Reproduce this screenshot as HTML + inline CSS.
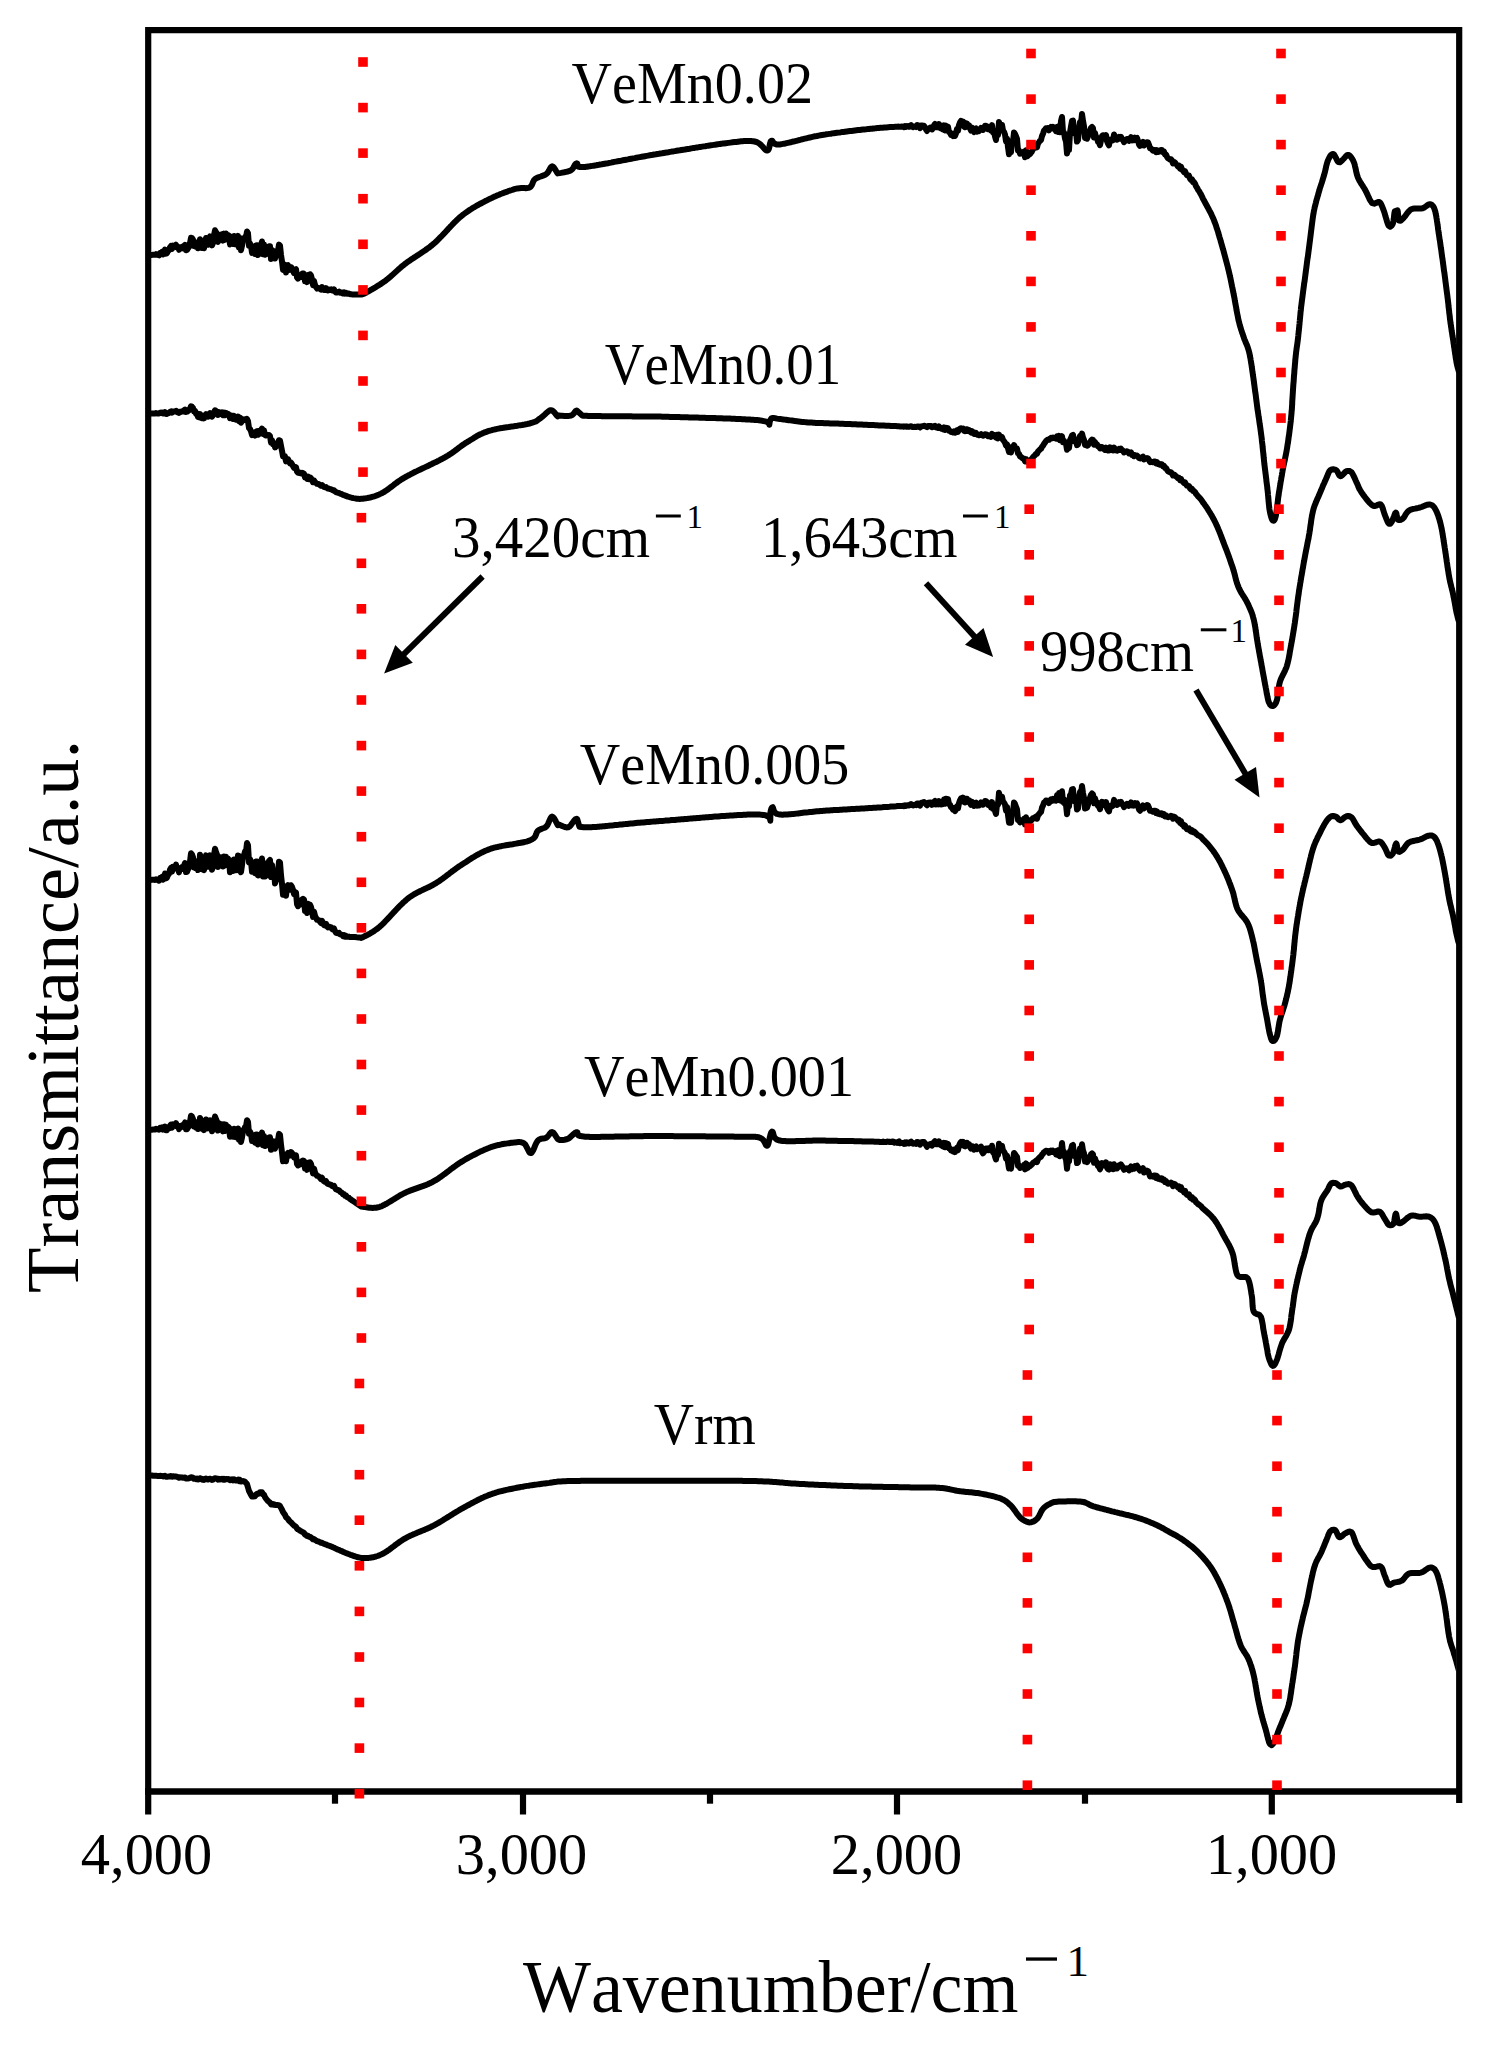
<!DOCTYPE html>
<html><head><meta charset="utf-8"><title>FTIR spectra</title>
<style>html,body{margin:0;padding:0;background:#fff}body{width:1488px;height:2045px;overflow:hidden;font-family:"Liberation Serif",serif}</style>
</head><body>
<svg width="1488" height="2045" viewBox="0 0 1488 2045" style="display:block">
<rect width="1488" height="2045" fill="#fff"/>
<defs><clipPath id="plot"><rect x="148" y="30" width="1308.2" height="1760"/></clipPath></defs>
<g font-family="'Liberation Serif', serif" fill="#000" style="font-kerning:none;font-variant-ligatures:none">
<polyline points="148.0,255.5 149.2,255.3 150.9,255.1 153.0,254.8 154.0,254.7 155.0,254.8 156.0,254.1 157.0,254.6 158.0,254.9 159.0,255.3 160.0,253.0 161.0,253.3 162.0,252.0 163.0,254.4 164.0,253.4 165.0,249.6 166.0,253.7 167.0,253.1 168.0,250.9 169.0,250.2 170.0,247.3 171.0,246.0 172.0,248.8 173.0,245.7 174.0,246.2 175.0,246.3 176.0,244.7 177.0,247.4 178.0,247.1 179.0,249.8 180.0,247.4 181.0,248.2 182.0,247.0 183.0,248.2 184.0,246.4 185.0,244.8 186.0,250.3 187.0,250.0 188.0,248.3 189.0,246.8 190.0,243.0 191.0,237.7 192.0,238.1 193.0,239.7 194.0,245.9 195.0,242.5 196.0,246.8 197.0,242.6 198.0,248.2 199.0,247.3 200.0,239.2 201.0,241.1 202.0,248.0 203.0,243.3 204.0,248.2 205.0,241.8 206.0,238.0 207.0,243.4 208.0,244.6 209.0,238.8 210.0,236.4 211.0,238.8 212.0,245.4 213.0,242.8 214.0,235.3 215.0,230.3 216.0,232.2 217.0,233.7 218.0,241.9 219.0,234.6 220.0,238.8 221.0,237.4 222.0,234.3 223.0,240.6 224.0,233.6 225.0,239.7 226.0,233.5 227.0,237.3 228.0,234.9 229.0,235.8 230.0,244.4 231.0,242.6 232.0,236.8 233.0,244.0 234.0,236.0 235.0,238.5 236.0,244.5 237.0,242.2 238.0,235.9 239.0,247.4 240.0,238.1 241.0,250.2 242.0,245.6 243.0,240.1 244.0,239.8 245.0,237.0 246.0,237.5 247.0,231.5 248.0,233.3 249.0,245.7 250.0,243.5 251.0,245.5 252.0,252.9 253.0,247.6 254.0,249.5 255.0,254.0 256.0,245.5 257.0,245.3 258.0,255.1 259.0,253.7 260.0,246.0 261.0,244.9 262.0,241.5 263.0,254.2 264.0,244.5 265.0,254.7 266.0,254.3 267.0,251.3 268.0,249.6 269.0,246.3 270.0,246.2 271.0,258.9 272.0,250.1 273.0,256.6 274.0,251.1 275.0,258.6 276.0,255.7 277.0,252.0 278.0,250.7 279.0,244.6 280.0,245.6 281.0,254.9 282.0,261.5 283.0,270.0 284.0,266.8 285.0,264.7 286.0,272.5 287.0,266.1 288.0,265.2 289.0,267.9 290.0,269.9 291.0,267.0 292.0,268.5 293.0,270.7 294.0,273.0 295.0,269.8 296.0,269.2 297.0,277.3 298.0,278.6 299.0,276.4 300.0,277.3 301.0,276.9 302.0,273.8 303.0,273.4 304.0,273.8 305.0,281.3 306.0,279.9 307.0,282.1 308.0,275.1 309.0,279.8 310.0,274.2 311.0,275.4 312.0,279.3 313.0,285.1 314.0,280.9 315.0,285.0 316.0,286.9 317.0,288.5 318.0,287.9 319.0,288.1 320.0,288.8 321.0,289.6 322.0,287.0 323.0,288.8 324.0,290.0 325.0,290.0 326.0,288.2 327.0,290.0 328.0,290.5 329.0,289.6 330.0,290.0 331.0,289.4 332.0,290.4 333.0,290.7 334.0,289.4 335.0,291.3 336.0,292.5 337.0,292.4 338.0,292.3 339.0,291.7 340.0,292.7 341.0,292.6 342.0,292.5 343.0,293.4 344.0,292.4 345.0,293.6 346.0,292.8 347.0,293.7 348.0,293.7 349.0,293.6 350.0,294.2 351.0,294.2 352.0,294.4 352.9,294.4 355.1,294.6 356.8,294.6 358.4,294.6 360.0,294.4 361.2,294.4 362.1,294.4 363.4,294.0 365.8,292.8 366.7,292.3 367.7,291.7 368.9,291.1 370.1,290.4 371.4,289.7 372.7,288.9 374.1,288.1 375.6,287.2 377.0,286.3 378.5,285.4 380.0,284.5 381.4,283.5 382.9,282.5 384.3,281.6 385.6,280.6 386.7,279.7 387.9,278.8 389.0,277.9 390.1,277.0 391.1,276.1 392.2,275.1 393.3,274.1 394.4,273.1 395.5,272.1 396.6,271.1 397.7,270.1 398.9,269.0 400.1,268.0 401.3,266.9 402.6,265.8 403.9,264.8 405.3,263.7 406.4,262.9 407.5,262.0 408.7,261.2 409.9,260.4 411.1,259.6 412.4,258.7 413.6,257.9 414.9,257.1 416.2,256.2 417.5,255.4 418.9,254.5 420.2,253.6 421.5,252.7 422.9,251.8 424.2,250.9 425.6,250.0 426.9,249.0 428.3,248.1 429.6,247.1 430.9,246.0 432.2,245.0 433.5,243.9 434.6,243.0 435.7,242.0 436.8,241.0 437.8,239.9 438.9,238.8 440.0,237.7 441.1,236.6 442.2,235.5 443.3,234.3 444.4,233.2 445.5,232.0 446.6,230.8 447.7,229.6 448.7,228.4 449.8,227.3 450.9,226.1 452.0,225.0 453.1,223.8 454.2,222.7 455.3,221.6 456.4,220.5 457.5,219.5 458.5,218.5 459.6,217.5 460.7,216.6 461.8,215.7 463.1,214.6 464.5,213.6 465.9,212.6 467.2,211.7 468.6,210.7 469.9,209.8 471.3,209.0 472.7,208.1 474.0,207.3 475.4,206.5 476.8,205.7 478.1,205.0 479.5,204.2 480.8,203.5 482.1,202.8 483.5,202.1 484.8,201.4 486.1,200.7 487.4,200.1 488.7,199.4 490.0,198.8 491.5,198.1 493.0,197.3 494.5,196.6 496.0,196.0 497.6,195.3 499.1,194.7 500.6,194.0 502.1,193.5 503.6,192.9 505.0,192.3 506.5,191.8 507.9,191.3 509.2,190.8 510.6,190.4 511.9,190.0 513.1,189.6 514.3,189.2 515.4,188.9 517.5,188.4 519.5,188.2 521.3,188.1 522.9,188.1 524.4,188.1 525.8,188.2 527.2,188.1 528.4,187.9 529.5,187.5 530.9,186.5 531.8,185.1 532.5,183.5 533.1,181.8 533.9,180.3 535.1,179.0 536.3,178.2 537.7,177.6 539.2,177.0 540.7,176.5 542.3,175.9 543.8,175.4 545.2,174.7 546.4,174.0 547.7,172.7 548.7,171.1 549.6,169.4 550.4,167.9 551.2,166.8 552.1,166.3 553.1,166.7 554.1,167.8 555.1,169.4 556.1,171.0 557.0,172.5 557.7,173.4 559.8,173.1 561.0,172.9 562.5,172.6 564.3,172.3 566.1,171.9 567.9,171.5 569.6,170.9 571.0,170.3 572.2,169.3 573.2,167.9 574.0,166.4 574.8,165.0 575.7,163.9 576.7,163.3 577.3,163.5 577.9,166.5 580.3,167.1 585.2,166.9 586.1,166.8 587.0,166.7 588.0,166.5 589.0,166.4 590.1,166.2 591.2,166.1 592.4,165.9 593.6,165.7 594.9,165.5 596.2,165.3 597.6,165.0 598.9,164.8 600.3,164.5 601.8,164.3 603.3,164.0 604.8,163.7 606.3,163.4 607.9,163.2 609.5,162.9 611.1,162.6 612.7,162.2 614.3,161.9 616.0,161.6 617.7,161.3 619.4,161.0 621.1,160.7 622.8,160.3 624.5,160.0 626.2,159.7 627.9,159.4 629.7,159.0 631.4,158.7 633.1,158.4 634.8,158.1 636.5,157.7 638.2,157.4 639.9,157.1 641.6,156.8 643.3,156.5 644.9,156.2 646.6,155.9 648.2,155.6 649.8,155.3 651.4,155.1 652.9,154.8 654.4,154.5 655.9,154.3 657.4,154.0 658.9,153.8 660.5,153.5 662.1,153.3 663.6,153.0 665.2,152.7 666.8,152.4 668.4,152.2 670.1,151.9 671.7,151.6 673.3,151.4 675.0,151.1 676.6,150.8 678.2,150.5 679.9,150.3 681.5,150.0 683.2,149.7 684.8,149.5 686.4,149.2 688.1,148.9 689.7,148.7 691.3,148.4 692.9,148.1 694.5,147.9 696.1,147.6 697.7,147.4 699.2,147.1 700.8,146.9 702.3,146.6 703.8,146.4 705.3,146.2 706.8,145.9 708.2,145.7 709.6,145.5 711.0,145.3 712.4,145.1 713.8,144.9 715.1,144.7 716.4,144.5 717.7,144.3 718.9,144.1 720.1,144.0 721.3,143.8 722.4,143.6 723.5,143.5 726.0,143.2 728.3,142.9 730.5,142.6 732.5,142.3 734.5,142.1 736.3,141.9 738.0,141.7 739.6,141.5 741.2,141.3 742.6,141.2 744.0,141.1 745.3,141.1 746.6,141.0 747.8,141.0 749.0,141.0 750.1,141.0 751.2,141.1 752.3,141.2 753.4,141.3 754.5,141.5 756.5,142.0 758.3,142.9 759.9,144.0 761.3,145.3 762.5,146.5 763.6,147.8 764.6,148.9 765.5,149.8 766.4,150.4 767.2,150.6 768.2,150.1 768.9,148.8 769.4,147.0 769.7,145.0 770.1,143.1 770.6,141.6 771.4,140.7 772.2,140.7 772.7,141.4 773.3,142.5 774.4,143.6 776.5,144.4 779.9,144.4 780.8,144.3 781.8,144.1 782.9,143.9 784.0,143.7 785.2,143.5 786.5,143.2 787.8,142.9 789.1,142.6 790.5,142.3 791.9,141.9 793.4,141.5 794.9,141.2 796.5,140.8 798.1,140.4 799.7,140.0 801.3,139.5 803.0,139.1 804.7,138.7 806.4,138.3 808.1,137.9 809.8,137.5 811.6,137.1 813.3,136.7 815.1,136.3 816.9,136.0 818.7,135.6 820.4,135.3 822.2,135.0 823.6,134.8 824.9,134.6 826.4,134.3 827.8,134.1 829.3,133.9 830.8,133.7 832.3,133.4 833.8,133.2 835.4,133.0 837.0,132.8 838.5,132.6 840.2,132.4 841.8,132.1 843.4,131.9 845.0,131.7 846.7,131.5 848.3,131.3 849.9,131.1 851.6,130.9 853.2,130.7 854.8,130.5 856.5,130.3 858.1,130.1 859.7,130.0 861.3,129.8 862.9,129.6 864.4,129.4 866.0,129.3 867.5,129.1 869.0,129.0 870.5,128.8 871.9,128.7 873.3,128.5 874.7,128.4 876.1,128.2 877.4,128.1 878.7,128.0 880.6,127.8 882.6,127.7 884.5,127.5 886.3,127.4 888.2,127.2 890.0,127.1 891.8,127.0 893.5,126.9 895.2,126.8 896.9,126.7 898.6,126.6 900.0,126.8 901.0,126.6 902.0,126.7 903.0,126.6 904.0,127.2 905.0,126.2 906.0,126.9 907.0,126.1 908.0,126.5 909.0,126.8 910.0,125.8 911.0,125.1 912.0,126.3 913.0,127.1 914.0,126.7 915.0,126.2 916.0,127.0 917.0,125.1 918.0,125.2 919.0,125.8 920.0,128.2 921.0,125.6 922.0,125.5 923.0,125.7 924.0,125.8 925.0,127.5 926.0,129.4 927.0,131.0 928.0,128.5 929.0,128.5 930.0,127.8 931.0,127.4 932.0,129.5 933.0,127.6 934.0,125.4 935.0,123.9 936.0,127.3 937.0,126.7 938.0,127.3 939.0,124.0 940.0,126.0 941.0,128.4 942.0,126.9 943.0,129.4 944.0,125.3 945.0,130.5 946.0,125.6 947.0,128.3 948.0,126.7 949.0,132.1 950.0,132.3 951.0,134.9 952.0,134.7 953.0,136.0 954.0,133.6 955.0,135.9 956.0,133.3 957.0,129.0 958.0,130.6 959.0,125.1 960.0,122.5 961.0,121.0 962.0,123.1 963.0,121.6 964.0,126.5 965.0,127.2 966.0,123.3 967.0,123.4 968.0,126.7 969.0,125.3 970.0,128.3 971.0,130.6 972.0,127.6 973.0,129.0 974.0,132.1 975.0,129.3 976.0,128.5 977.0,131.7 978.0,130.9 979.0,131.2 980.0,129.7 981.0,127.8 982.0,129.4 983.0,130.0 984.0,128.6 985.0,125.8 986.0,125.8 987.0,126.4 988.0,129.1 989.0,127.5 990.0,127.6 991.0,130.7 992.0,125.1 993.0,132.3 994.0,131.8 995.0,136.5 996.0,140.0 997.0,131.4 998.0,135.1 999.0,122.0 1000.0,126.1 1001.0,126.6 1002.0,124.8 1003.0,130.5 1004.0,131.9 1005.0,134.5 1006.0,141.4 1007.0,138.6 1008.0,147.1 1009.0,154.3 1010.0,147.2 1011.0,152.3 1012.0,140.9 1013.0,141.7 1014.0,132.4 1015.0,133.9 1016.0,136.2 1017.0,138.9 1018.0,150.5 1019.0,150.4 1020.0,153.7 1021.0,152.8 1022.0,153.5 1023.0,153.5 1024.0,151.6 1025.0,157.2 1026.0,150.2 1027.0,156.4 1028.0,155.8 1029.0,153.0 1030.0,154.1 1031.0,152.7 1032.0,151.4 1033.0,149.1 1034.0,148.2 1035.0,147.2 1036.0,145.8 1037.0,147.3 1038.0,143.3 1039.0,142.2 1040.0,140.7 1041.0,140.1 1042.0,135.9 1043.0,133.7 1044.0,130.7 1045.0,129.7 1046.0,128.2 1047.0,128.2 1048.0,128.1 1049.0,130.3 1050.0,128.6 1051.0,126.9 1052.0,128.2 1053.0,126.9 1054.0,128.8 1055.0,128.4 1056.0,131.1 1057.0,127.1 1058.0,132.0 1059.0,126.0 1060.0,132.3 1061.0,120.9 1062.0,117.0 1063.0,132.0 1064.0,132.5 1065.0,138.6 1066.0,141.5 1067.0,153.5 1068.0,147.3 1069.0,150.0 1070.0,132.5 1071.0,126.6 1072.0,120.9 1073.0,120.6 1074.0,133.0 1075.0,133.5 1076.0,131.1 1077.0,141.6 1078.0,140.1 1079.0,128.6 1080.0,121.9 1081.0,123.2 1082.0,114.0 1083.0,120.9 1084.0,126.3 1085.0,138.1 1086.0,138.3 1087.0,138.7 1088.0,136.4 1089.0,131.7 1090.0,130.6 1091.0,127.9 1092.0,127.0 1093.0,128.2 1094.0,137.5 1095.0,133.0 1096.0,136.9 1097.0,137.7 1098.0,141.9 1099.0,142.4 1100.0,145.2 1101.0,140.5 1102.0,136.2 1103.0,135.2 1104.0,135.5 1105.0,137.9 1106.0,135.1 1107.0,141.2 1108.0,143.7 1109.0,145.3 1110.0,139.8 1111.0,140.4 1112.0,140.8 1113.0,140.2 1114.0,134.5 1115.0,136.9 1116.0,139.2 1117.0,139.7 1118.0,138.6 1119.0,137.0 1120.0,138.5 1121.0,136.8 1122.0,138.7 1123.0,139.6 1124.0,142.2 1125.0,140.9 1126.0,140.0 1127.0,138.9 1128.0,139.1 1129.0,140.8 1130.0,139.1 1131.0,137.2 1132.0,140.3 1133.0,138.5 1134.0,140.2 1135.0,137.7 1136.0,138.2 1137.0,137.9 1138.0,140.7 1139.0,144.5 1140.0,145.9 1141.0,144.6 1142.0,143.6 1143.0,141.9 1144.0,145.5 1145.0,143.4 1146.0,143.4 1147.0,142.2 1148.0,142.4 1149.0,144.8 1150.0,148.3 1151.0,148.5 1152.0,149.6 1153.0,150.6 1154.0,149.9 1155.0,150.2 1156.0,152.2 1157.0,150.1 1158.0,152.0 1159.0,151.5 1160.0,151.4 1161.0,149.9 1162.0,149.9 1163.0,152.1 1164.0,151.7 1165.0,154.6 1166.0,154.5 1167.0,156.8 1168.0,158.3 1169.0,158.8 1170.0,159.5 1171.0,159.2 1172.0,160.6 1173.0,163.4 1174.0,161.8 1175.0,162.6 1176.0,164.0 1177.0,165.0 1178.0,166.5 1179.0,165.7 1180.0,168.6 1181.0,166.7 1182.0,169.9 1183.0,170.2 1184.0,172.2 1185.0,171.1 1186.0,173.6 1187.0,175.3 1188.0,175.7 1189.0,175.6 1190.0,178.6 1191.0,179.9 1192.0,179.4 1193.0,182.1 1194.0,182.1 1195.0,183.6 1196.0,186.3 1197.0,187.7 1198.0,189.7 1199.0,191.1 1200.0,192.8 1201.0,194.4 1202.0,196.6 1203.0,198.8 1204.0,200.5 1205.0,202.4 1205.6,203.5 1206.4,204.9 1207.1,206.3 1207.9,207.7 1208.6,209.0 1209.3,210.4 1210.1,211.8 1210.8,213.2 1211.5,214.6 1212.1,216.0 1212.8,217.5 1213.5,219.0 1214.1,220.6 1214.6,222.0 1215.2,223.4 1215.7,224.8 1216.2,226.2 1216.6,227.7 1217.1,229.1 1217.6,230.6 1218.1,232.1 1218.5,233.7 1219.0,235.2 1219.4,236.8 1219.9,238.4 1220.4,239.9 1220.8,241.6 1221.3,243.2 1221.7,244.6 1222.1,246.0 1222.5,247.4 1222.9,248.9 1223.4,250.4 1223.8,251.9 1224.2,253.4 1224.6,254.9 1225.0,256.4 1225.4,258.0 1225.8,259.5 1226.2,261.0 1226.6,262.5 1227.0,264.0 1227.4,265.5 1227.8,267.0 1228.1,268.5 1228.5,269.9 1228.9,271.5 1229.2,273.1 1229.6,274.6 1229.9,276.1 1230.3,277.7 1230.6,279.2 1230.9,280.7 1231.2,282.2 1231.5,283.7 1231.8,285.2 1232.1,286.7 1232.5,288.3 1232.8,289.8 1233.1,291.3 1233.4,292.9 1233.7,294.5 1234.0,295.9 1234.3,297.4 1234.6,298.9 1234.8,300.5 1235.1,302.0 1235.4,303.6 1235.7,305.2 1236.0,306.8 1236.3,308.4 1236.5,309.9 1236.8,311.5 1237.1,313.0 1237.4,314.5 1237.7,315.9 1238.0,317.3 1238.2,318.7 1238.5,320.0 1238.8,321.2 1239.3,323.1 1239.7,324.9 1240.2,326.5 1240.7,328.0 1241.1,329.5 1241.6,330.9 1242.0,332.3 1242.5,333.6 1243.0,335.0 1243.4,336.3 1243.9,337.7 1244.4,339.2 1245.0,340.5 1245.5,341.8 1246.0,343.1 1246.6,344.3 1247.1,345.6 1247.6,347.0 1248.1,348.5 1248.6,350.2 1249.1,352.0 1249.4,353.2 1249.7,354.5 1249.9,355.9 1250.2,357.3 1250.5,358.7 1250.7,360.2 1251.0,361.8 1251.2,363.3 1251.5,364.9 1251.7,366.5 1252.0,368.2 1252.2,369.9 1252.4,371.5 1252.7,373.2 1252.9,375.0 1253.2,376.7 1253.4,378.1 1253.6,379.5 1253.8,381.0 1254.0,382.5 1254.2,384.0 1254.4,385.6 1254.6,387.1 1254.8,388.7 1255.0,390.3 1255.2,391.9 1255.5,393.4 1255.7,395.0 1255.9,396.6 1256.1,398.2 1256.3,399.8 1256.5,401.4 1256.7,402.9 1256.9,404.5 1257.1,406.0 1257.3,407.5 1257.5,409.1 1257.7,410.6 1258.0,412.1 1258.2,413.7 1258.4,415.2 1258.6,416.7 1258.9,418.2 1259.1,419.7 1259.3,421.2 1259.5,422.7 1259.7,424.2 1260.0,425.7 1260.2,427.2 1260.4,428.7 1260.6,430.2 1260.8,431.7 1261.0,433.2 1261.2,434.7 1261.4,436.2 1261.6,437.7 1261.8,439.2 1261.9,440.8 1262.1,442.3 1262.3,443.9 1262.5,445.4 1262.6,447.0 1262.8,448.5 1262.9,450.1 1263.1,451.6 1263.3,453.2 1263.4,454.7 1263.6,456.2 1263.7,457.7 1263.9,459.2 1264.0,460.7 1264.2,462.1 1264.3,463.6 1264.5,465.0 1264.7,466.7 1264.9,468.3 1265.1,469.9 1265.3,471.5 1265.5,473.1 1265.7,474.7 1265.9,476.3 1266.1,477.8 1266.3,479.3 1266.4,480.9 1266.6,482.4 1266.8,483.8 1267.0,485.3 1267.2,486.7 1267.3,488.2 1267.5,489.6 1267.7,491.3 1267.9,493.1 1268.0,494.8 1268.2,496.5 1268.3,498.2 1268.5,499.9 1268.6,501.6 1268.8,503.1 1268.9,504.7 1269.1,506.1 1269.2,507.5 1269.4,508.9 1269.6,510.1 1270.0,512.2 1270.4,514.2 1270.9,516.0 1271.3,517.5 1271.8,518.8 1272.3,519.8 1272.7,520.4 1273.7,520.8 1274.7,519.6 1275.7,516.3 1275.9,515.3 1276.1,514.2 1276.3,513.0 1276.5,511.7 1276.7,510.2 1276.9,508.7 1277.1,507.1 1277.3,505.5 1277.5,503.8 1277.7,502.1 1277.9,500.4 1278.1,498.6 1278.3,497.0 1278.6,495.3 1278.8,493.7 1279.0,492.2 1279.3,490.7 1279.5,489.2 1279.8,487.6 1280.0,486.0 1280.3,484.4 1280.5,482.9 1280.8,481.3 1281.1,479.7 1281.3,478.1 1281.6,476.6 1281.9,475.0 1282.1,473.5 1282.4,472.0 1282.6,470.5 1282.9,469.1 1283.2,467.5 1283.5,466.0 1283.8,464.6 1284.1,463.2 1284.4,461.9 1284.7,460.5 1285.0,459.2 1285.2,457.8 1285.5,456.4 1285.8,455.0 1286.1,453.5 1286.4,451.9 1286.7,450.3 1287.0,448.5 1287.2,447.2 1287.4,445.8 1287.6,444.4 1287.9,443.0 1288.1,441.5 1288.3,440.0 1288.5,438.5 1288.7,436.9 1289.0,435.3 1289.2,433.7 1289.4,432.1 1289.6,430.5 1289.8,428.9 1290.0,427.3 1290.2,425.6 1290.4,424.0 1290.6,422.4 1290.8,420.8 1290.9,419.3 1291.1,417.7 1291.2,416.2 1291.4,414.6 1291.5,413.1 1291.6,411.5 1291.8,410.0 1291.9,408.5 1292.0,406.9 1292.1,405.4 1292.2,403.8 1292.2,402.3 1292.3,400.8 1292.4,399.2 1292.5,397.7 1292.6,396.1 1292.7,394.6 1292.8,393.1 1292.9,391.5 1293.0,390.0 1293.1,388.4 1293.2,386.9 1293.3,385.3 1293.4,383.8 1293.6,382.2 1293.7,380.6 1293.8,379.0 1293.9,377.3 1294.0,375.7 1294.2,374.1 1294.3,372.5 1294.4,370.9 1294.5,369.3 1294.7,367.7 1294.8,366.1 1294.9,364.6 1295.1,363.1 1295.2,361.6 1295.3,360.2 1295.4,358.8 1295.6,357.4 1295.7,356.1 1295.9,354.2 1296.1,352.5 1296.3,350.9 1296.5,349.4 1296.7,347.9 1296.9,346.5 1297.1,345.2 1297.3,343.8 1297.5,342.3 1297.7,340.8 1297.9,339.2 1298.1,337.5 1298.3,335.6 1298.4,334.3 1298.6,332.9 1298.7,331.5 1298.9,330.1 1299.0,328.6 1299.2,327.1 1299.3,325.6 1299.5,324.0 1299.6,322.4 1299.8,320.8 1299.9,319.2 1300.1,317.6 1300.2,316.0 1300.4,314.4 1300.5,312.7 1300.7,311.1 1300.9,309.5 1301.0,307.9 1301.2,306.4 1301.4,304.8 1301.6,303.3 1301.8,301.7 1302.0,300.2 1302.2,298.6 1302.4,297.1 1302.6,295.6 1302.8,294.0 1303.0,292.5 1303.2,290.9 1303.4,289.4 1303.6,287.9 1303.8,286.3 1304.0,284.8 1304.2,283.2 1304.5,281.7 1304.7,280.2 1304.9,278.6 1305.1,277.1 1305.3,275.5 1305.5,274.0 1305.7,272.5 1305.9,270.9 1306.1,269.4 1306.3,267.8 1306.5,266.3 1306.7,264.8 1306.9,263.2 1307.1,261.7 1307.3,260.1 1307.5,258.6 1307.8,257.1 1308.0,255.5 1308.2,254.0 1308.4,252.4 1308.6,250.9 1308.8,249.4 1309.0,247.8 1309.2,246.3 1309.4,244.7 1309.6,243.2 1309.8,241.6 1310.0,240.1 1310.2,238.5 1310.4,236.9 1310.6,235.3 1310.8,233.6 1311.0,232.0 1311.2,230.4 1311.4,228.8 1311.6,227.2 1311.8,225.6 1312.0,224.0 1312.2,222.4 1312.4,220.9 1312.6,219.4 1312.8,217.9 1313.0,216.5 1313.2,215.1 1313.5,213.7 1313.7,212.4 1314.0,210.6 1314.4,208.9 1314.7,207.3 1315.1,205.7 1315.5,204.2 1315.9,202.7 1316.2,201.3 1316.6,199.9 1317.0,198.5 1317.4,197.2 1317.8,195.8 1318.2,194.5 1318.5,193.2 1318.9,191.9 1319.4,190.2 1319.8,188.6 1320.3,187.1 1320.8,185.6 1321.3,184.1 1321.8,182.6 1322.2,181.2 1322.7,179.7 1323.1,178.3 1323.6,176.8 1324.0,175.4 1324.4,173.8 1324.9,172.1 1325.3,170.4 1325.7,168.7 1326.0,167.1 1326.4,165.4 1326.8,163.9 1327.2,162.5 1327.7,161.2 1328.1,160.0 1329.1,158.0 1330.1,156.2 1331.1,154.9 1332.2,154.1 1333.2,153.9 1334.1,154.6 1335.0,156.0 1335.9,157.8 1336.7,159.6 1337.6,161.2 1338.4,162.1 1339.8,162.3 1341.1,161.3 1342.5,160.0 1343.5,159.0 1344.7,157.6 1345.9,156.2 1347.0,155.2 1348.2,154.9 1349.2,155.3 1350.1,156.1 1351.1,157.2 1352.0,158.6 1353.0,160.3 1353.8,162.1 1354.3,163.3 1354.7,164.7 1355.0,166.2 1355.4,167.8 1355.8,169.5 1356.1,171.2 1356.5,172.8 1356.9,174.5 1357.4,176.0 1357.9,177.5 1358.6,179.0 1359.3,180.4 1360.1,181.8 1360.9,183.1 1361.7,184.4 1362.6,185.7 1363.4,187.1 1364.3,188.4 1365.1,189.8 1365.8,191.2 1366.5,192.6 1367.3,194.2 1368.0,195.8 1368.7,197.3 1369.4,198.8 1370.1,200.2 1370.9,201.4 1371.6,202.4 1372.3,203.2 1374.2,203.7 1376.0,203.0 1377.8,202.1 1379.4,202.1 1380.3,202.8 1381.0,203.9 1381.6,205.2 1382.2,206.7 1382.9,208.4 1383.6,210.3 1384.1,211.6 1384.6,213.2 1385.1,214.9 1385.6,216.8 1386.2,218.6 1386.7,220.4 1387.2,222.1 1387.7,223.6 1388.2,224.8 1388.7,225.7 1390.2,226.7 1391.6,225.8 1392.8,223.7 1393.1,222.6 1393.4,221.1 1393.7,219.3 1393.9,217.5 1394.1,215.6 1394.3,213.9 1394.5,212.5 1394.8,211.4 1397.5,210.3 1397.8,211.5 1398.0,213.3 1398.2,215.5 1398.4,217.7 1398.6,219.5 1399.0,220.6 1400.6,220.8 1403.0,218.6 1403.8,217.7 1404.7,216.6 1405.7,215.3 1406.7,213.9 1407.8,212.5 1408.9,211.2 1410.1,210.1 1411.3,209.3 1412.8,208.7 1414.4,208.5 1416.1,208.5 1417.9,208.5 1419.6,208.6 1421.2,208.5 1422.6,208.3 1424.3,207.5 1425.9,206.4 1427.3,205.3 1428.6,204.4 1429.8,204.2 1431.0,204.5 1432.0,205.0 1433.0,206.0 1434.0,207.7 1434.9,210.3 1435.2,211.3 1435.5,212.5 1435.7,213.7 1436.0,215.1 1436.3,216.5 1436.5,218.0 1436.8,219.6 1437.0,221.2 1437.3,222.9 1437.5,224.6 1437.8,226.4 1438.0,228.1 1438.2,229.9 1438.5,231.6 1438.7,233.3 1439.0,235.0 1439.2,236.4 1439.4,237.8 1439.6,239.3 1439.9,240.7 1440.1,242.2 1440.3,243.7 1440.5,245.2 1440.7,246.7 1440.9,248.2 1441.2,249.7 1441.4,251.3 1441.6,252.8 1441.8,254.3 1442.0,255.9 1442.2,257.5 1442.5,259.0 1442.7,260.6 1442.9,262.1 1443.1,263.7 1443.3,265.2 1443.5,266.7 1443.7,268.2 1443.9,269.8 1444.1,271.3 1444.4,272.9 1444.6,274.5 1444.8,276.1 1445.0,277.6 1445.2,279.2 1445.4,280.8 1445.6,282.4 1445.8,283.9 1446.0,285.5 1446.2,287.0 1446.4,288.6 1446.6,290.1 1446.8,291.6 1447.0,293.1 1447.2,294.5 1447.4,296.2 1447.6,297.9 1447.8,299.5 1448.0,301.2 1448.2,302.8 1448.4,304.5 1448.5,306.1 1448.7,307.7 1448.9,309.3 1449.1,310.8 1449.2,312.4 1449.4,313.9 1449.6,315.4 1449.8,316.9 1449.9,318.4 1450.1,319.8 1450.3,321.2 1450.5,323.0 1450.8,324.7 1451.0,326.4 1451.3,328.0 1451.5,329.6 1451.7,331.1 1452.0,332.6 1452.2,334.2 1452.4,335.7 1452.7,337.2 1452.9,338.7 1453.2,340.2 1453.4,341.8 1453.6,343.4 1453.9,345.1 1454.1,346.8 1454.4,348.5 1454.6,350.2 1454.9,351.9 1455.1,353.6 1455.4,355.2 1455.6,356.8 1455.8,358.3 1456.1,359.7 1456.3,361.1 1456.5,362.3 1457.0,364.7 1457.5,366.7 1457.9,368.4 1458.4,369.9 1458.7,371.1 1459.0,372.0" fill="none" stroke="#000" stroke-width="6" stroke-linejoin="round" stroke-linecap="butt"/>
<polyline points="148.0,413.6 148.1,413.7 151.3,413.6 152.3,413.6 153.0,413.5 154.0,413.5 155.0,413.5 156.0,413.1 157.0,413.4 158.0,413.5 159.0,413.6 160.0,412.7 161.0,412.9 162.0,412.5 163.0,413.6 164.0,413.4 165.0,412.1 166.0,413.9 167.0,413.9 168.0,413.2 169.0,413.0 170.0,411.9 171.0,411.4 172.0,412.7 173.0,411.4 174.0,411.6 175.0,411.6 176.0,410.9 177.0,412.1 178.0,411.8 179.0,412.9 180.0,411.7 181.0,411.9 182.0,411.2 183.0,411.5 184.0,410.5 185.0,409.6 186.0,412.0 187.0,411.7 188.0,411.0 189.0,410.3 190.0,408.6 191.0,406.3 192.0,406.8 193.0,408.0 194.0,411.3 195.0,410.8 196.0,413.9 197.0,413.4 198.0,416.9 199.0,417.3 200.0,414.1 201.0,415.2 202.0,418.2 203.0,416.3 204.0,418.4 205.0,415.7 206.0,414.1 207.0,416.3 208.0,416.7 209.0,414.2 210.0,413.2 211.0,414.0 212.0,416.6 213.0,415.4 214.0,412.4 215.0,410.3 216.0,411.0 217.0,411.7 218.0,415.0 219.0,412.1 220.0,413.9 221.0,413.5 222.0,412.5 223.0,415.2 224.0,412.6 225.0,415.2 226.0,412.9 227.0,414.6 228.0,413.9 229.0,414.5 230.0,418.2 231.0,417.7 232.0,415.6 233.0,418.8 234.0,415.8 235.0,417.1 236.0,419.6 237.0,418.9 238.0,416.5 239.0,421.2 240.0,417.6 241.0,422.7 242.0,421.1 243.0,419.3 244.0,419.7 245.0,419.3 246.0,420.2 247.0,419.0 248.0,421.3 249.0,428.1 250.0,429.0 251.0,431.2 252.0,435.1 253.0,433.3 254.0,434.1 255.0,435.5 256.0,431.7 257.0,431.2 258.0,434.8 259.0,433.9 260.0,430.6 261.0,430.0 262.0,428.6 263.0,434.0 264.0,430.3 265.0,435.0 266.0,435.5 267.0,435.1 268.0,435.4 269.0,435.0 270.0,436.1 271.0,442.6 272.0,440.2 273.0,444.2 274.0,443.1 275.0,447.4 276.0,446.5 277.0,444.5 278.0,443.5 279.0,440.2 280.0,440.5 281.0,445.9 282.0,450.8 283.0,456.4 284.0,456.3 285.0,456.3 286.0,461.4 287.0,458.9 288.0,459.1 289.0,461.5 290.0,463.4 291.0,462.6 292.0,464.2 293.0,466.0 294.0,467.8 295.0,466.8 296.0,467.2 297.0,471.6 298.0,472.7 299.0,472.3 300.0,473.2 301.0,473.5 302.0,472.7 303.0,473.1 304.0,473.8 305.0,477.4 306.0,477.4 307.0,478.8 308.0,476.6 309.0,479.1 310.0,477.3 311.0,478.2 312.0,479.9 313.0,482.2 314.0,480.4 315.0,482.1 316.0,483.0 317.0,483.8 318.0,483.9 319.0,484.3 320.0,485.0 321.0,485.7 322.0,485.0 323.0,486.1 324.0,486.9 325.0,487.3 326.0,487.0 327.0,488.0 328.0,488.6 329.0,488.6 330.0,489.1 331.0,489.2 332.0,489.9 333.0,490.4 334.0,490.3 335.0,491.4 336.0,492.1 337.0,492.5 338.0,492.8 339.0,492.9 340.0,493.6 341.0,493.9 342.0,494.3 343.0,494.9 344.0,494.9 345.0,495.6 345.3,495.6 346.6,496.1 347.9,496.6 349.2,497.0 350.5,497.4 351.7,497.7 353.5,498.1 355.2,498.4 356.7,498.7 358.2,498.8 359.7,498.9 361.1,498.8 362.6,498.7 364.1,498.5 365.8,498.3 367.2,498.1 368.6,497.8 370.1,497.5 371.5,497.1 373.0,496.7 374.5,496.3 376.0,495.7 377.6,495.1 379.2,494.4 380.9,493.6 382.7,492.7 383.8,492.1 384.9,491.4 385.9,490.7 387.0,490.0 388.1,489.2 389.2,488.4 390.3,487.5 391.4,486.7 392.6,485.8 393.8,484.9 395.0,483.9 396.3,483.0 397.6,482.0 399.0,481.0 400.5,480.1 402.0,479.1 403.6,478.1 405.3,477.1 406.4,476.5 407.6,475.9 408.8,475.2 410.0,474.6 411.3,473.9 412.7,473.2 414.0,472.5 415.4,471.8 416.9,471.1 418.3,470.4 419.8,469.7 421.3,469.0 422.8,468.3 424.3,467.6 425.8,466.9 427.3,466.2 428.8,465.5 430.3,464.7 431.8,464.0 433.2,463.3 434.7,462.6 436.1,462.0 437.4,461.3 438.8,460.6 440.1,459.9 441.3,459.3 442.5,458.6 443.7,458.0 444.8,457.4 446.5,456.4 448.1,455.5 449.5,454.5 451.0,453.6 452.3,452.7 453.6,451.8 454.8,450.9 456.0,450.0 457.2,449.1 458.3,448.3 459.4,447.4 460.5,446.6 461.6,445.8 462.7,445.0 463.8,444.2 465.0,443.4 466.2,442.7 467.4,441.9 468.8,441.1 470.1,440.3 471.4,439.5 472.7,438.7 473.9,437.9 475.1,437.2 476.4,436.4 477.6,435.7 478.9,435.0 480.3,434.3 481.7,433.7 483.2,433.0 484.7,432.4 486.4,431.8 488.1,431.2 490.0,430.6 491.2,430.3 492.6,429.9 494.0,429.6 495.4,429.3 497.0,428.9 498.5,428.6 500.2,428.3 501.8,428.1 503.5,427.8 505.2,427.5 507.0,427.2 508.7,427.0 510.5,426.7 512.2,426.4 513.9,426.2 515.6,425.9 517.3,425.7 518.9,425.4 520.4,425.2 522.0,425.0 523.4,424.7 524.8,424.5 526.1,424.2 527.3,424.0 528.5,423.7 529.5,423.5 532.3,422.7 534.3,422.0 535.9,421.4 537.0,420.7 537.9,420.1 538.7,419.4 539.6,418.7 540.8,417.9 542.1,416.9 543.4,415.8 544.7,414.6 546.0,413.3 547.3,412.2 548.5,411.2 549.6,410.5 550.7,410.2 552.1,410.5 553.5,411.5 554.8,412.9 555.9,414.3 556.9,415.6 557.7,416.4 558.3,415.6 559.4,415.6 560.8,415.7 562.5,415.8 564.3,415.9 566.2,415.9 568.0,415.9 569.7,415.8 571.0,415.6 572.6,414.8 573.8,413.5 574.8,412.1 575.7,411.0 576.7,410.6 582.3,415.6 583.1,415.7 584.0,415.7 584.9,415.8 585.9,415.8 586.9,415.8 588.0,415.9 589.0,415.9 590.2,415.9 591.3,416.0 592.5,416.0 593.8,416.0 595.1,416.1 596.4,416.1 597.7,416.1 599.1,416.1 600.5,416.1 601.9,416.2 603.4,416.2 604.9,416.2 606.4,416.2 607.9,416.2 609.4,416.2 611.0,416.2 612.6,416.3 614.2,416.3 615.9,416.3 617.5,416.3 619.2,416.3 620.9,416.3 622.5,416.3 624.2,416.3 626.0,416.3 627.7,416.3 629.4,416.3 631.1,416.3 632.9,416.4 634.6,416.4 636.4,416.4 638.1,416.4 639.9,416.4 641.6,416.4 643.4,416.4 645.1,416.4 646.9,416.5 648.6,416.5 650.3,416.5 652.0,416.5 653.8,416.5 655.5,416.6 657.2,416.6 658.8,416.6 660.5,416.6 662.2,416.7 663.8,416.7 665.4,416.8 667.0,416.8 668.4,416.8 669.9,416.9 671.4,416.9 672.9,417.0 674.5,417.0 676.0,417.0 677.6,417.1 679.2,417.1 680.9,417.2 682.5,417.2 684.1,417.2 685.8,417.3 687.5,417.3 689.2,417.4 690.9,417.4 692.6,417.5 694.3,417.5 696.0,417.6 697.7,417.6 699.5,417.7 701.2,417.7 702.9,417.8 704.7,417.8 706.4,417.9 708.2,417.9 709.9,418.0 711.6,418.0 713.3,418.1 715.0,418.1 716.8,418.2 718.5,418.2 720.1,418.3 721.8,418.3 723.5,418.4 725.1,418.5 726.8,418.5 728.4,418.6 730.0,418.6 731.6,418.7 733.1,418.8 734.7,418.8 736.2,418.9 737.7,419.0 739.2,419.0 740.6,419.1 742.1,419.2 743.5,419.2 744.8,419.3 746.2,419.4 747.5,419.4 748.7,419.5 750.0,419.6 751.2,419.7 752.3,419.7 753.5,419.8 754.5,419.9 755.6,420.0 756.6,420.1 757.6,420.1 758.5,420.2 759.4,420.3 760.2,420.4 766.4,421.6 769.0,423.1 769.3,424.7 769.8,421.4 770.5,419.6 771.4,418.5 772.5,417.9 773.5,417.9 774.9,418.1 776.9,418.6 779.9,419.0 781.0,419.1 782.1,419.3 783.3,419.4 784.6,419.6 785.9,419.8 787.3,420.0 788.8,420.2 790.3,420.4 791.9,420.6 793.5,420.8 795.2,421.1 796.9,421.3 798.7,421.5 800.5,421.7 802.4,421.9 804.2,422.1 806.2,422.2 808.1,422.4 809.4,422.5 810.6,422.6 811.9,422.6 813.2,422.7 814.5,422.8 815.8,422.9 817.2,422.9 818.5,423.0 819.9,423.0 821.3,423.1 822.7,423.1 824.1,423.2 825.5,423.2 827.0,423.3 828.5,423.3 830.0,423.4 831.5,423.4 833.1,423.5 834.7,423.5 836.3,423.6 838.0,423.6 839.7,423.7 841.4,423.8 843.1,423.8 844.9,423.9 846.7,423.9 848.6,424.0 850.5,424.1 851.8,424.2 853.1,424.2 854.5,424.3 855.9,424.3 857.3,424.4 858.8,424.5 860.4,424.5 861.9,424.6 863.5,424.7 865.2,424.7 866.8,424.8 868.5,424.9 870.2,425.0 871.9,425.0 873.6,425.1 875.4,425.2 877.1,425.3 878.8,425.4 880.6,425.4 882.3,425.5 884.1,425.6 885.8,425.7 887.5,425.8 889.2,425.8 890.9,425.9 892.6,426.0 894.2,426.1 895.9,426.1 897.5,426.2 899.0,426.3 900.0,426.4 901.0,426.4 902.0,426.4 903.0,426.5 904.0,426.7 905.0,426.4 906.0,426.7 907.0,426.5 908.0,426.7 909.0,426.8 910.0,426.5 911.0,426.3 912.0,426.8 913.0,427.1 914.0,427.0 915.0,426.8 916.0,427.1 917.0,426.5 918.0,426.5 919.0,426.7 920.0,427.5 921.0,426.4 922.0,426.3 923.0,426.1 924.0,425.8 925.0,426.0 926.0,426.6 927.0,427.1 928.0,426.1 929.0,426.2 930.0,426.0 931.0,426.1 932.0,427.2 933.0,426.7 934.0,426.1 935.0,425.8 936.0,427.5 937.0,427.5 938.0,427.9 939.0,426.5 940.0,427.5 941.0,428.6 942.0,428.0 943.0,429.2 944.0,427.5 945.0,429.9 946.0,427.8 947.0,429.1 948.0,428.4 949.0,430.8 950.0,430.9 951.0,431.9 952.0,431.8 953.0,432.4 954.0,431.4 955.0,432.7 956.0,432.0 957.0,430.5 958.0,431.8 959.0,429.6 960.0,428.7 961.0,428.2 962.0,429.3 963.0,428.6 964.0,430.9 965.0,431.2 966.0,429.3 967.0,429.3 968.0,430.8 969.0,430.1 970.0,431.5 971.0,432.6 972.0,431.2 973.0,432.1 974.0,433.8 975.0,432.8 976.0,432.8 977.0,434.7 978.0,434.8 979.0,435.3 980.0,434.9 981.0,434.2 982.0,435.2 983.0,435.8 984.0,435.3 985.0,434.2 986.0,434.4 987.0,434.8 988.0,436.2 989.0,435.5 990.0,435.6 991.0,436.8 992.0,433.8 993.0,436.2 994.0,434.9 995.0,436.0 996.0,437.5 997.0,434.9 998.0,438.4 999.0,434.6 1000.0,437.3 1001.0,437.8 1002.0,437.1 1003.0,439.9 1004.0,441.1 1005.0,442.6 1006.0,445.6 1007.0,444.3 1008.0,448.3 1009.0,452.0 1010.0,449.8 1011.0,452.5 1012.0,447.1 1013.0,447.8 1014.0,445.0 1015.0,447.3 1016.0,448.6 1017.0,448.6 1018.0,453.3 1019.0,453.9 1020.0,456.4 1021.0,456.8 1022.0,457.8 1023.0,458.5 1024.0,458.5 1025.0,461.3 1026.0,459.1 1027.0,461.8 1028.0,461.7 1029.0,460.6 1030.0,460.7 1031.0,459.7 1032.0,458.7 1033.0,457.2 1034.0,456.2 1035.0,455.2 1036.0,453.9 1037.0,453.8 1038.0,451.6 1039.0,450.5 1040.0,449.4 1041.0,448.8 1042.0,446.9 1043.0,445.7 1044.0,443.9 1045.0,442.6 1046.0,441.1 1047.0,440.2 1048.0,439.5 1049.0,439.8 1050.0,438.8 1051.0,437.9 1052.0,438.3 1053.0,437.5 1054.0,438.0 1055.0,437.6 1056.0,438.6 1057.0,436.4 1058.0,438.9 1059.0,435.9 1060.0,440.3 1061.0,438.8 1062.0,436.2 1063.0,442.3 1064.0,440.7 1065.0,442.9 1066.0,443.7 1067.0,449.7 1068.0,446.0 1069.0,448.0 1070.0,440.2 1071.0,438.2 1072.0,435.4 1073.0,434.9 1074.0,441.3 1075.0,441.2 1076.0,439.6 1077.0,445.1 1078.0,444.5 1079.0,438.9 1080.0,436.1 1081.0,437.8 1082.0,433.6 1083.0,437.4 1084.0,439.8 1085.0,445.0 1086.0,444.9 1087.0,445.7 1088.0,445.2 1089.0,443.0 1090.0,442.4 1091.0,440.6 1092.0,439.6 1093.0,439.9 1094.0,444.7 1095.0,442.1 1096.0,444.0 1097.0,444.3 1098.0,446.3 1099.0,446.5 1100.0,448.3 1101.0,447.0 1102.0,447.1 1103.0,448.5 1104.0,449.0 1105.0,449.9 1106.0,447.7 1107.0,450.0 1108.0,450.5 1109.0,450.6 1110.0,447.4 1111.0,448.5 1112.0,450.1 1113.0,450.4 1114.0,447.6 1115.0,449.0 1116.0,450.4 1117.0,450.7 1118.0,450.0 1119.0,448.9 1120.0,449.9 1121.0,448.8 1122.0,450.0 1123.0,450.7 1124.0,452.4 1125.0,451.8 1126.0,451.5 1127.0,451.2 1128.0,451.8 1129.0,453.4 1130.0,452.9 1131.0,452.3 1132.0,455.0 1133.0,454.5 1134.0,456.2 1135.0,455.1 1136.0,455.8 1137.0,455.5 1138.0,456.5 1139.0,457.9 1140.0,458.5 1141.0,457.8 1142.0,457.4 1143.0,456.6 1144.0,459.5 1145.0,458.4 1146.0,458.7 1147.0,458.1 1148.0,458.4 1149.0,459.9 1150.0,462.1 1151.0,461.8 1152.0,462.0 1153.0,462.3 1154.0,461.5 1155.0,461.6 1156.0,463.3 1157.0,462.1 1158.0,464.1 1159.0,464.3 1160.0,464.8 1161.0,464.1 1162.0,464.4 1163.0,466.2 1164.0,465.9 1165.0,467.9 1166.0,468.0 1167.0,469.8 1168.0,471.2 1169.0,471.7 1170.0,472.4 1171.0,472.3 1172.0,473.3 1173.0,475.5 1174.0,474.5 1175.0,475.2 1176.0,476.3 1177.0,477.1 1178.0,478.3 1179.0,477.9 1180.0,480.1 1181.0,478.8 1182.0,481.2 1183.0,481.5 1184.0,483.0 1185.0,482.4 1186.0,484.3 1187.0,485.7 1188.0,486.0 1189.0,486.0 1190.0,488.3 1191.0,489.3 1192.0,488.9 1193.0,490.9 1194.0,491.0 1195.0,492.0 1196.0,493.9 1197.0,494.9 1198.0,496.3 1199.0,497.1 1200.0,498.3 1201.0,499.4 1202.0,500.9 1203.0,502.5 1204.0,503.7 1205.0,505.2 1205.5,505.8 1206.4,507.1 1207.3,508.4 1208.1,509.7 1208.9,511.1 1209.8,512.4 1210.6,513.8 1211.4,515.1 1212.2,516.5 1212.9,517.9 1213.7,519.2 1214.4,520.6 1215.1,522.0 1215.8,523.4 1216.4,524.8 1217.1,526.2 1217.7,527.6 1218.3,529.1 1218.9,530.5 1219.5,532.0 1220.1,533.4 1220.6,534.9 1221.2,536.3 1221.7,537.8 1222.3,539.2 1222.8,540.6 1223.3,542.0 1223.9,543.4 1224.4,544.8 1225.0,546.3 1225.6,547.9 1226.2,549.4 1226.8,550.9 1227.3,552.4 1227.9,553.9 1228.4,555.4 1229.0,556.9 1229.5,558.4 1230.0,559.8 1230.5,561.3 1231.0,562.7 1231.5,564.2 1232.0,565.6 1232.5,567.0 1233.0,568.5 1233.4,570.0 1233.9,571.5 1234.3,573.0 1234.7,574.5 1235.1,576.0 1235.4,577.5 1235.8,578.9 1236.2,580.4 1236.6,581.8 1237.0,583.2 1237.5,584.5 1238.0,585.9 1238.5,587.2 1239.2,588.7 1239.9,590.1 1240.6,591.5 1241.4,592.9 1242.2,594.2 1243.0,595.5 1243.9,596.8 1244.7,598.1 1245.5,599.4 1246.2,600.7 1246.9,602.0 1247.6,603.3 1248.3,604.7 1248.9,606.1 1249.5,607.5 1250.1,608.8 1250.7,610.2 1251.2,611.5 1251.8,612.9 1252.3,614.4 1252.8,616.0 1253.2,617.6 1253.7,619.4 1254.0,620.7 1254.3,622.1 1254.6,623.5 1254.8,624.9 1255.1,626.4 1255.4,628.0 1255.6,629.5 1255.8,631.1 1256.1,632.7 1256.3,634.3 1256.5,635.9 1256.7,637.5 1257.0,639.1 1257.2,640.6 1257.5,642.1 1257.7,643.6 1258.0,645.1 1258.2,646.7 1258.5,648.2 1258.8,649.7 1259.0,651.1 1259.3,652.6 1259.6,654.1 1259.8,655.6 1260.1,657.0 1260.4,658.5 1260.6,659.9 1260.9,661.4 1261.2,662.9 1261.4,664.3 1261.7,665.8 1262.0,667.3 1262.3,668.8 1262.5,670.4 1262.8,671.9 1263.1,673.5 1263.4,675.1 1263.7,676.6 1264.0,678.2 1264.2,679.7 1264.5,681.2 1264.8,682.7 1265.0,684.1 1265.3,685.4 1265.6,686.8 1265.8,688.0 1266.2,690.0 1266.5,691.9 1266.8,693.7 1267.2,695.4 1267.5,697.0 1267.8,698.4 1268.1,699.8 1268.4,701.0 1268.8,702.1 1270.1,704.6 1271.4,705.9 1272.8,706.1 1273.8,705.6 1274.9,704.5 1276.0,702.7 1276.9,700.1 1277.2,699.0 1277.4,697.7 1277.6,696.4 1277.8,694.9 1278.0,693.3 1278.2,691.6 1278.4,690.0 1278.6,688.3 1278.9,686.6 1279.2,685.0 1279.5,683.4 1279.9,681.9 1280.4,680.4 1281.0,678.9 1281.6,677.5 1282.3,676.1 1283.0,674.7 1283.7,673.3 1284.4,671.9 1285.1,670.4 1285.7,668.9 1286.4,667.4 1286.9,665.8 1287.3,664.4 1287.7,663.0 1288.0,661.5 1288.4,660.0 1288.7,658.5 1289.0,657.0 1289.3,655.4 1289.6,653.8 1289.8,652.2 1290.1,650.6 1290.4,649.0 1290.7,647.3 1291.0,645.6 1291.3,644.2 1291.5,642.8 1291.8,641.4 1292.0,640.0 1292.3,638.6 1292.5,637.1 1292.8,635.7 1293.0,634.2 1293.3,632.7 1293.5,631.2 1293.8,629.6 1294.0,628.1 1294.3,626.5 1294.5,624.8 1294.8,623.2 1295.0,621.5 1295.2,620.1 1295.4,618.7 1295.6,617.3 1295.8,615.8 1296.0,614.4 1296.2,612.9 1296.4,611.3 1296.5,609.8 1296.7,608.3 1296.9,606.7 1297.1,605.2 1297.3,603.6 1297.5,602.0 1297.7,600.5 1297.9,598.9 1298.1,597.4 1298.3,595.8 1298.6,594.3 1298.8,592.7 1299.0,591.2 1299.2,589.7 1299.5,588.2 1299.7,586.6 1300.0,585.1 1300.2,583.5 1300.5,582.0 1300.7,580.5 1301.0,578.9 1301.2,577.4 1301.5,575.8 1301.8,574.3 1302.0,572.8 1302.3,571.3 1302.5,569.8 1302.8,568.3 1303.1,566.8 1303.3,565.3 1303.6,563.9 1303.8,562.4 1304.1,561.0 1304.4,559.4 1304.7,557.7 1305.0,556.1 1305.3,554.5 1305.6,552.9 1305.9,551.4 1306.2,549.8 1306.5,548.3 1306.8,546.8 1307.1,545.2 1307.4,543.7 1307.7,542.2 1308.0,540.7 1308.3,539.3 1308.6,537.8 1308.8,536.3 1309.1,534.8 1309.4,533.2 1309.6,531.6 1309.9,530.1 1310.1,528.5 1310.3,526.9 1310.5,525.3 1310.8,523.8 1311.0,522.2 1311.2,520.7 1311.4,519.1 1311.7,517.7 1311.9,516.2 1312.2,514.7 1312.5,513.3 1312.8,511.9 1313.1,510.6 1313.5,509.0 1314.0,507.4 1314.5,505.9 1315.1,504.4 1315.7,503.0 1316.2,501.6 1316.8,500.2 1317.4,498.8 1318.0,497.5 1318.6,496.2 1319.1,494.9 1319.7,493.6 1320.2,492.4 1320.9,490.8 1321.5,489.2 1322.2,487.7 1322.8,486.2 1323.4,484.7 1324.1,483.3 1324.7,482.0 1325.2,480.7 1325.8,479.4 1326.3,478.3 1327.1,476.5 1327.7,474.9 1328.3,473.4 1328.9,472.1 1329.5,471.0 1330.3,470.2 1331.7,469.5 1333.3,469.3 1334.9,469.6 1336.3,470.2 1337.4,471.6 1338.4,473.6 1339.3,475.4 1340.4,476.3 1341.5,475.9 1342.7,474.8 1344.0,473.4 1345.2,472.1 1346.4,471.3 1348.2,470.9 1349.8,471.1 1351.5,472.3 1352.2,473.3 1352.9,474.5 1353.6,476.0 1354.4,477.5 1355.1,479.2 1355.8,480.8 1356.5,482.3 1357.2,483.7 1357.8,485.1 1358.3,486.5 1358.9,487.9 1359.6,489.3 1360.5,490.8 1361.5,492.4 1362.3,493.5 1363.2,494.8 1364.2,496.1 1365.2,497.5 1366.3,498.9 1367.4,500.3 1368.5,501.6 1369.6,502.9 1370.7,503.9 1371.7,504.8 1372.6,505.5 1374.5,506.0 1376.3,505.6 1377.9,504.8 1379.4,504.2 1380.7,504.5 1381.5,505.4 1382.1,506.6 1382.7,508.1 1383.2,509.8 1383.7,511.5 1384.2,513.1 1384.7,514.6 1385.4,516.3 1386.1,518.1 1386.8,519.9 1387.5,521.5 1388.2,522.8 1388.8,523.7 1390.3,523.8 1391.8,521.7 1392.4,520.4 1393.1,518.6 1393.9,516.6 1394.6,514.7 1395.2,513.3 1395.8,512.6 1396.4,513.4 1396.7,515.6 1397.1,518.0 1397.8,519.6 1399.2,520.1 1401.0,519.7 1402.9,518.6 1403.8,517.6 1404.6,516.3 1405.5,514.7 1406.5,513.2 1407.6,511.7 1408.9,510.6 1410.2,509.9 1411.7,509.4 1413.4,508.9 1415.0,508.6 1416.8,508.2 1418.4,507.9 1420.0,507.5 1421.5,507.0 1423.1,506.4 1424.6,505.7 1426.1,505.1 1427.5,504.7 1428.9,504.5 1430.1,504.5 1431.6,505.0 1432.8,505.8 1434.0,507.0 1435.0,508.6 1436.1,510.6 1436.6,511.7 1437.1,512.8 1437.6,514.1 1438.1,515.4 1438.5,516.8 1439.0,518.3 1439.5,519.8 1439.9,521.5 1440.4,523.1 1440.8,524.9 1441.2,526.7 1441.5,528.0 1441.8,529.3 1442.0,530.7 1442.3,532.1 1442.5,533.6 1442.8,535.1 1443.0,536.6 1443.3,538.2 1443.5,539.7 1443.7,541.3 1444.0,542.9 1444.2,544.5 1444.5,546.1 1444.7,547.7 1445.0,549.3 1445.2,550.9 1445.4,552.4 1445.7,553.9 1445.9,555.5 1446.1,557.1 1446.4,558.7 1446.6,560.3 1446.8,561.9 1447.1,563.6 1447.3,565.2 1447.5,566.8 1447.8,568.4 1448.0,569.9 1448.3,571.5 1448.5,572.9 1448.7,574.4 1449.0,575.8 1449.2,577.1 1449.5,578.9 1449.9,580.6 1450.2,582.2 1450.6,583.8 1451.0,585.3 1451.3,586.8 1451.7,588.2 1452.0,589.6 1452.4,591.0 1452.7,592.4 1453.0,593.8 1453.3,595.2 1453.6,596.9 1454.0,598.7 1454.3,600.4 1454.6,602.1 1454.9,603.8 1455.2,605.4 1455.5,607.0 1455.7,608.5 1456.0,610.0 1456.3,611.4 1456.7,613.3 1457.2,615.1 1457.6,616.9 1458.0,618.5 1458.4,619.9 1458.8,621.1 1459.0,622.0" fill="none" stroke="#000" stroke-width="6" stroke-linejoin="round" stroke-linecap="butt"/>
<polyline points="148.0,880.0 149.4,879.9 152.0,879.7 153.0,879.7 154.0,879.8 155.0,879.9 156.0,879.2 157.0,879.9 158.0,880.2 159.0,880.7 160.0,878.1 161.0,878.5 162.0,876.9 163.0,879.6 164.0,878.3 165.0,873.5 166.0,878.4 167.0,877.6 168.0,874.8 169.0,873.9 170.0,869.7 171.0,867.8 172.0,871.7 173.0,866.9 174.0,867.5 175.0,867.5 176.0,864.7 177.0,868.8 178.0,868.1 179.0,872.4 180.0,868.2 181.0,869.3 182.0,867.2 183.0,868.8 184.0,865.8 185.0,863.0 186.0,872.1 187.0,871.7 188.0,869.4 189.0,867.3 190.0,861.6 191.0,853.3 192.0,854.4 193.0,857.3 194.0,867.4 195.0,861.8 196.0,868.4 197.0,861.3 198.0,870.1 199.0,868.3 200.0,854.7 201.0,858.0 202.0,869.2 203.0,862.0 204.0,870.2 205.0,860.7 206.0,855.4 207.0,864.3 208.0,866.7 209.0,858.4 210.0,855.3 211.0,859.3 212.0,869.7 213.0,866.3 214.0,855.7 215.0,848.7 216.0,852.0 217.0,854.6 218.0,867.0 219.0,856.7 220.0,863.2 221.0,861.4 222.0,857.2 223.0,866.5 224.0,856.5 225.0,865.4 226.0,856.7 227.0,862.1 228.0,858.7 229.0,859.9 230.0,872.2 231.0,869.5 232.0,861.0 233.0,871.1 234.0,859.4 235.0,862.4 236.0,870.2 237.0,865.9 238.0,855.6 239.0,870.4 240.0,856.2 241.0,872.2 242.0,865.0 243.0,856.7 244.0,855.7 245.0,851.5 246.0,851.7 247.0,843.1 248.0,845.3 249.0,862.2 250.0,859.0 251.0,861.5 252.0,871.7 253.0,864.3 254.0,866.9 255.0,873.1 256.0,861.5 257.0,861.4 258.0,875.4 259.0,874.0 260.0,863.8 261.0,862.8 262.0,858.5 263.0,876.4 264.0,863.0 265.0,876.6 266.0,875.3 267.0,870.2 268.0,866.8 269.0,861.0 270.0,859.9 271.0,877.0 272.0,864.9 273.0,875.3 274.0,870.4 275.0,883.5 276.0,880.0 277.0,874.0 278.0,871.5 279.0,861.8 280.0,862.5 281.0,875.2 282.0,883.9 283.0,894.8 284.0,889.7 285.0,886.3 286.0,895.8 287.0,887.1 288.0,885.2 289.0,887.9 290.0,889.7 291.0,885.3 292.0,886.9 293.0,889.8 294.0,894.2 295.0,892.0 296.0,892.6 297.0,904.1 298.0,906.2 299.0,903.3 300.0,904.5 301.0,904.0 302.0,899.5 303.0,898.9 304.0,899.5 305.0,910.9 306.0,909.3 307.0,913.0 308.0,903.8 309.0,911.0 310.0,904.6 311.0,906.9 312.0,911.3 313.0,916.9 314.0,911.6 315.0,915.7 316.0,917.9 317.0,919.8 318.0,919.7 319.0,920.3 320.0,921.7 321.0,923.1 322.0,920.8 323.0,923.3 324.0,925.1 325.0,925.5 326.0,923.9 327.0,926.3 328.0,927.3 329.0,926.6 330.0,927.5 331.0,927.3 332.0,928.8 333.0,929.6 334.0,928.5 335.0,931.1 336.0,932.8 337.0,933.0 338.0,933.2 339.0,932.9 340.0,934.4 341.0,934.6 342.0,934.9 343.0,936.1 344.0,935.1 345.0,936.7 346.0,935.8 347.0,936.8 348.0,936.8 349.0,936.6 350.0,937.1 351.0,936.9 352.0,937.0 352.9,937.0 354.8,937.1 356.8,937.3 358.5,937.4 360.0,937.4 360.9,937.9 363.0,937.1 363.8,936.7 364.7,936.2 365.7,935.7 366.8,935.2 368.0,934.6 369.2,934.0 370.5,933.2 371.9,932.4 373.4,931.5 374.9,930.4 376.5,929.3 378.2,928.0 379.9,926.6 380.8,925.8 381.7,925.0 382.6,924.1 383.6,923.1 384.6,922.1 385.6,921.0 386.7,919.9 387.7,918.8 388.8,917.7 389.9,916.5 391.0,915.3 392.2,914.0 393.3,912.8 394.4,911.6 395.6,910.4 396.7,909.1 397.9,907.9 399.0,906.7 400.2,905.5 401.4,904.4 402.5,903.3 403.6,902.2 404.8,901.2 405.9,900.2 407.0,899.3 408.1,898.4 409.4,897.4 410.8,896.4 412.2,895.5 413.5,894.7 414.9,893.9 416.3,893.1 417.6,892.4 419.0,891.7 420.4,891.0 421.7,890.4 423.1,889.7 424.5,889.1 425.8,888.4 427.2,887.8 428.5,887.2 429.9,886.5 431.2,885.8 432.5,885.2 433.8,884.4 435.1,883.7 436.4,882.9 437.7,882.0 439.0,881.2 440.3,880.3 441.6,879.4 442.9,878.5 444.1,877.5 445.4,876.6 446.6,875.7 447.9,874.7 449.1,873.8 450.3,872.8 451.6,871.9 452.8,870.9 454.1,870.0 455.3,869.1 456.6,868.1 457.9,867.2 459.2,866.3 460.5,865.5 461.8,864.6 463.1,863.8 464.3,863.0 465.6,862.2 466.8,861.4 468.1,860.5 469.3,859.7 470.6,858.9 471.8,858.1 473.1,857.3 474.4,856.6 475.7,855.8 477.0,855.0 478.3,854.3 479.7,853.6 481.0,852.9 482.4,852.2 483.9,851.5 485.4,850.8 486.9,850.2 488.4,849.6 490.0,849.0 491.3,848.5 492.8,848.1 494.2,847.7 495.8,847.3 497.4,847.0 499.0,846.6 500.6,846.3 502.3,845.9 504.1,845.6 505.8,845.3 507.5,845.0 509.3,844.7 511.0,844.4 512.7,844.2 514.4,843.9 516.1,843.6 517.7,843.3 519.3,843.1 520.8,842.8 522.3,842.5 523.7,842.2 525.0,841.9 526.3,841.6 527.4,841.3 528.5,840.9 529.5,840.6 532.0,839.4 533.8,838.1 535.0,836.8 535.7,835.4 536.2,834.1 536.6,832.8 537.2,831.7 538.0,830.7 539.4,829.7 540.9,829.1 542.4,828.5 543.8,828.0 545.2,827.4 546.4,826.4 547.4,825.1 548.2,823.5 549.0,821.6 549.8,819.8 550.6,818.2 551.3,817.1 552.1,816.6 553.1,817.1 554.2,818.4 555.2,820.2 556.2,822.2 557.1,823.9 557.7,825.0 558.3,824.4 559.4,824.8 561.0,825.5 562.8,826.3 564.7,827.0 566.5,827.4 568.2,827.3 569.3,826.7 570.5,825.6 571.6,824.2 572.6,822.7 573.7,821.2 574.7,820.0 575.7,819.1 576.7,818.8 577.2,819.2 579.4,826.7 583.7,827.3 584.5,827.3 585.4,827.3 586.4,827.3 587.3,827.3 588.3,827.3 589.4,827.3 590.5,827.2 591.6,827.2 592.7,827.1 593.9,827.0 595.1,826.9 596.4,826.9 597.6,826.8 599.0,826.7 600.3,826.5 601.7,826.4 603.1,826.3 604.5,826.2 605.9,826.0 607.4,825.9 608.9,825.7 610.5,825.6 612.0,825.4 613.6,825.3 615.2,825.1 616.8,824.9 618.5,824.8 620.2,824.6 621.9,824.4 623.6,824.2 625.3,824.1 627.0,823.9 628.8,823.7 630.6,823.5 632.4,823.4 634.2,823.2 636.0,823.0 637.8,822.8 639.7,822.7 641.5,822.5 643.4,822.4 645.3,822.2 647.2,822.0 649.1,821.9 651.0,821.7 652.9,821.6 654.2,821.5 655.5,821.4 656.8,821.3 658.1,821.2 659.5,821.1 660.9,821.0 662.4,820.9 663.9,820.8 665.4,820.6 666.9,820.5 668.4,820.4 670.0,820.3 671.6,820.1 673.2,820.0 674.8,819.9 676.5,819.7 678.1,819.6 679.8,819.4 681.5,819.3 683.2,819.2 684.9,819.0 686.7,818.9 688.4,818.7 690.1,818.6 691.9,818.4 693.7,818.3 695.4,818.2 697.2,818.0 699.0,817.9 700.7,817.7 702.5,817.6 704.3,817.4 706.0,817.3 707.8,817.2 709.6,817.0 711.3,816.9 713.1,816.7 714.8,816.6 716.5,816.5 718.3,816.4 720.0,816.2 721.7,816.1 723.3,816.0 725.0,815.9 726.7,815.8 728.3,815.7 729.9,815.6 731.5,815.5 733.1,815.4 734.6,815.3 736.2,815.2 737.7,815.1 739.2,815.0 740.6,814.9 742.1,814.9 743.5,814.8 744.8,814.7 746.2,814.7 747.5,814.6 748.7,814.6 750.0,814.6 751.2,814.5 752.3,814.5 753.5,814.5 754.6,814.5 755.6,814.5 756.6,814.5 757.6,814.5 758.5,814.5 759.4,814.6 760.2,814.6 765.4,815.3 768.5,816.7 770.0,818.6 770.3,820.7 770.4,812.7 770.7,810.9 771.1,809.4 771.5,808.2 772.0,807.5 772.7,807.2 773.0,807.9 773.4,809.2 773.9,810.9 775.0,812.6 776.9,813.9 779.9,814.6 780.8,814.6 781.8,814.7 782.9,814.7 784.0,814.6 785.2,814.6 786.4,814.5 787.7,814.4 789.1,814.3 790.5,814.2 791.9,814.1 793.4,813.9 794.9,813.8 796.4,813.6 798.0,813.4 799.6,813.2 801.3,813.0 802.9,812.8 804.6,812.6 806.3,812.4 808.1,812.3 809.8,812.1 811.6,811.9 813.3,811.7 815.1,811.5 816.9,811.3 818.7,811.2 820.4,811.0 822.2,810.9 823.6,810.8 824.9,810.7 826.3,810.6 827.8,810.5 829.3,810.4 830.7,810.3 832.3,810.2 833.8,810.1 835.3,810.0 836.9,809.9 838.5,809.9 840.1,809.8 841.7,809.7 843.3,809.6 844.9,809.5 846.6,809.4 848.2,809.3 849.8,809.2 851.4,809.1 853.1,809.0 854.7,808.9 856.3,808.8 857.9,808.7 859.5,808.7 861.1,808.6 862.7,808.5 864.3,808.4 865.8,808.3 867.4,808.2 868.9,808.1 870.4,808.0 871.8,807.9 873.3,807.8 874.7,807.8 876.0,807.7 877.4,807.6 878.7,807.5 880.5,807.4 882.3,807.3 884.1,807.1 885.9,807.0 887.7,806.9 889.4,806.8 891.1,806.6 892.8,806.5 894.4,806.4 896.1,806.3 897.7,806.1 899.2,806.0 900.0,806.1 901.0,805.9 902.0,805.9 903.0,805.8 904.0,806.2 905.0,805.4 906.0,805.9 907.0,805.2 908.0,805.5 909.0,805.6 910.0,804.7 911.0,804.0 912.0,804.9 913.0,805.5 914.0,805.1 915.0,804.6 916.0,805.1 917.0,803.5 918.0,803.4 919.0,803.8 920.0,805.6 921.0,803.0 922.0,802.6 923.0,802.4 924.0,802.0 925.0,802.9 926.0,804.2 927.0,805.3 928.0,802.8 929.0,802.9 930.0,802.4 931.0,802.4 932.0,804.8 933.0,803.5 934.0,801.9 935.0,801.0 936.0,804.4 937.0,803.9 938.0,804.4 939.0,801.1 940.0,802.5 941.0,804.3 942.0,802.3 943.0,804.0 944.0,799.6 945.0,803.8 946.0,798.8 947.0,801.0 948.0,799.2 949.0,804.2 950.0,804.5 951.0,807.2 952.0,807.6 953.0,809.6 954.0,808.2 955.0,811.1 956.0,809.6 957.0,806.4 958.0,808.3 959.0,803.2 960.0,800.3 961.0,798.3 962.0,799.6 963.0,797.7 964.0,802.0 965.0,802.4 966.0,798.8 967.0,798.7 968.0,801.8 969.0,800.3 970.0,802.9 971.0,804.9 972.0,801.9 973.0,803.1 974.0,805.9 975.0,803.2 976.0,802.6 977.0,805.7 978.0,805.2 979.0,805.5 980.0,804.2 981.0,802.4 982.0,804.0 983.0,804.7 984.0,803.5 985.0,801.0 986.0,801.2 987.0,802.0 988.0,804.8 989.0,803.5 990.0,804.1 991.0,807.5 992.0,802.1 993.0,808.7 994.0,807.4 995.0,811.1 996.0,814.0 997.0,804.1 998.0,804.6 999.0,792.8 1000.0,798.3 1001.0,798.9 1002.0,796.7 1003.0,801.8 1004.0,802.6 1005.0,804.4 1006.0,810.5 1007.0,806.8 1008.0,815.0 1009.0,822.7 1010.0,816.6 1011.0,822.7 1012.0,811.5 1013.0,812.1 1014.0,802.5 1015.0,804.0 1016.0,806.7 1017.0,809.4 1018.0,820.0 1019.0,819.4 1020.0,822.3 1021.0,821.0 1022.0,821.4 1023.0,821.2 1024.0,818.9 1025.0,824.4 1026.0,817.2 1027.0,823.4 1028.0,822.9 1029.0,820.1 1030.0,821.4 1031.0,820.5 1032.0,819.8 1033.0,818.1 1034.0,817.8 1035.0,817.4 1036.0,816.6 1037.0,818.7 1038.0,815.1 1039.0,814.2 1040.0,812.8 1041.0,812.1 1042.0,807.6 1043.0,805.5 1044.0,802.7 1045.0,801.9 1046.0,800.5 1047.0,800.7 1048.0,800.7 1049.0,803.1 1050.0,801.4 1051.0,799.5 1052.0,800.8 1053.0,798.9 1054.0,800.3 1055.0,798.9 1056.0,800.6 1057.0,795.4 1058.0,799.4 1059.0,793.1 1060.0,800.4 1061.0,796.8 1062.0,791.2 1063.0,802.0 1064.0,799.4 1065.0,804.0 1066.0,804.8 1067.0,814.2 1068.0,804.8 1069.0,806.4 1070.0,795.3 1071.0,794.0 1072.0,789.3 1073.0,789.0 1074.0,801.2 1075.0,801.5 1076.0,799.0 1077.0,809.5 1078.0,808.4 1079.0,797.7 1080.0,791.9 1081.0,794.2 1082.0,785.9 1083.0,793.0 1084.0,797.8 1085.0,808.5 1086.0,808.1 1087.0,807.7 1088.0,804.7 1089.0,799.4 1090.0,797.8 1091.0,794.8 1092.0,793.5 1093.0,794.3 1094.0,803.2 1095.0,798.2 1096.0,801.8 1097.0,802.2 1098.0,806.1 1099.0,806.4 1100.0,809.2 1101.0,805.1 1102.0,801.9 1103.0,802.2 1104.0,802.7 1105.0,805.0 1106.0,802.0 1107.0,807.9 1108.0,810.1 1109.0,811.4 1110.0,805.7 1111.0,806.1 1112.0,806.3 1113.0,805.6 1114.0,799.9 1115.0,802.2 1116.0,804.5 1117.0,804.9 1118.0,803.8 1119.0,802.1 1120.0,803.6 1121.0,801.9 1122.0,803.7 1123.0,804.7 1124.0,807.2 1125.0,805.9 1126.0,805.0 1127.0,803.9 1128.0,804.2 1129.0,805.8 1130.0,804.2 1131.0,802.4 1132.0,805.4 1133.0,803.8 1134.0,805.5 1135.0,803.1 1136.0,803.6 1137.0,803.3 1138.0,805.9 1139.0,809.5 1140.0,810.7 1141.0,809.1 1142.0,807.6 1143.0,805.4 1144.0,808.3 1145.0,806.1 1146.0,806.0 1147.0,805.0 1148.0,805.5 1149.0,807.7 1150.0,810.8 1151.0,810.6 1152.0,811.2 1153.0,811.7 1154.0,810.7 1155.0,810.8 1156.0,812.9 1157.0,811.4 1158.0,813.8 1159.0,813.9 1160.0,814.4 1161.0,813.2 1162.0,813.4 1163.0,815.2 1164.0,814.3 1165.0,816.3 1166.0,815.4 1167.0,816.6 1168.0,817.2 1169.0,816.8 1170.0,816.7 1171.0,815.8 1172.0,816.5 1173.0,818.7 1174.0,816.7 1175.0,817.2 1176.0,818.3 1177.0,819.1 1178.0,820.6 1179.0,819.9 1180.0,822.9 1181.0,821.1 1182.0,824.4 1183.0,824.8 1184.0,826.7 1185.0,825.5 1186.0,827.8 1187.0,829.2 1188.0,829.1 1189.0,828.4 1190.0,830.8 1191.0,831.4 1192.0,830.2 1193.0,832.2 1194.0,831.4 1195.0,832.1 1196.0,833.8 1197.0,834.3 1198.0,835.3 1199.0,835.6 1200.0,836.3 1201.0,837.0 1202.0,838.2 1203.0,839.5 1204.0,840.2 1205.0,841.3 1205.4,841.7 1206.5,842.8 1207.6,844.0 1208.6,845.2 1209.6,846.4 1210.6,847.7 1211.6,848.9 1212.6,850.1 1213.5,851.4 1214.4,852.6 1215.3,853.9 1216.2,855.3 1217.0,856.6 1217.8,858.0 1218.6,859.3 1219.4,860.7 1220.2,862.1 1220.9,863.5 1221.6,864.9 1222.3,866.3 1223.0,867.8 1223.7,869.2 1224.4,870.7 1225.0,872.1 1225.7,873.5 1226.3,874.9 1226.9,876.4 1227.6,877.8 1228.2,879.3 1228.8,880.8 1229.3,882.3 1229.9,883.8 1230.5,885.2 1231.0,886.7 1231.5,888.1 1232.0,889.5 1232.5,890.9 1233.0,892.5 1233.5,894.1 1233.8,895.7 1234.2,897.2 1234.5,898.8 1234.9,900.3 1235.2,901.8 1235.6,903.3 1236.0,904.8 1236.4,906.2 1236.9,907.6 1237.5,909.0 1238.2,910.4 1239.1,911.8 1240.0,913.1 1241.0,914.3 1242.0,915.6 1243.1,916.8 1244.1,918.0 1245.1,919.2 1246.0,920.5 1246.9,921.8 1247.6,923.1 1248.3,924.5 1248.8,925.9 1249.4,927.3 1249.9,928.7 1250.3,930.1 1250.7,931.6 1251.1,933.0 1251.5,934.5 1251.9,936.1 1252.3,937.7 1252.7,939.3 1253.0,940.7 1253.4,942.2 1253.7,943.7 1254.0,945.2 1254.3,946.7 1254.6,948.3 1254.9,949.9 1255.2,951.5 1255.5,953.1 1255.8,954.7 1256.1,956.3 1256.4,957.8 1256.7,959.4 1257.0,960.9 1257.3,962.5 1257.6,964.0 1258.0,965.5 1258.3,967.1 1258.6,968.6 1258.9,970.1 1259.2,971.7 1259.5,973.2 1259.8,974.8 1260.1,976.4 1260.4,978.0 1260.7,979.6 1260.9,981.1 1261.2,982.7 1261.4,984.3 1261.7,986.0 1261.9,987.6 1262.1,989.3 1262.3,991.0 1262.5,992.6 1262.7,994.2 1262.9,995.8 1263.2,997.4 1263.4,998.9 1263.6,1000.4 1263.8,1001.8 1264.1,1003.7 1264.4,1005.4 1264.7,1007.1 1265.0,1008.7 1265.3,1010.2 1265.6,1011.8 1265.9,1013.3 1266.2,1014.8 1266.5,1016.3 1266.8,1017.9 1267.1,1019.6 1267.4,1021.3 1267.7,1023.0 1268.0,1024.8 1268.3,1026.5 1268.6,1028.2 1268.9,1029.8 1269.2,1031.4 1269.5,1032.8 1269.8,1034.0 1270.4,1036.2 1270.9,1038.1 1271.5,1039.6 1272.1,1040.6 1272.8,1041.1 1273.8,1040.9 1274.9,1040.0 1275.9,1038.3 1276.9,1036.0 1277.2,1034.8 1277.5,1033.5 1277.8,1032.0 1278.1,1030.4 1278.3,1028.6 1278.6,1026.9 1278.9,1025.1 1279.2,1023.3 1279.5,1021.6 1279.9,1019.9 1280.3,1018.4 1280.7,1017.0 1281.1,1015.6 1281.6,1014.1 1282.1,1012.7 1282.6,1011.3 1283.1,1009.8 1283.5,1008.3 1284.0,1006.9 1284.5,1005.3 1284.9,1003.8 1285.3,1002.4 1285.6,1001.0 1286.0,999.6 1286.3,998.3 1286.7,996.9 1287.0,995.5 1287.3,994.0 1287.7,992.5 1288.0,990.9 1288.3,989.2 1288.7,987.5 1289.0,985.6 1289.2,984.3 1289.5,982.9 1289.7,981.5 1289.9,980.0 1290.1,978.5 1290.4,976.9 1290.6,975.4 1290.8,973.8 1291.1,972.1 1291.3,970.5 1291.5,968.8 1291.7,967.2 1292.0,965.5 1292.2,963.9 1292.4,962.2 1292.6,960.6 1292.8,959.0 1293.0,957.4 1293.2,955.8 1293.4,954.3 1293.5,952.7 1293.7,951.2 1293.9,949.6 1294.0,948.1 1294.1,946.5 1294.3,945.0 1294.4,943.4 1294.6,941.9 1294.7,940.3 1294.9,938.7 1295.0,937.2 1295.2,935.6 1295.4,934.0 1295.6,932.4 1295.8,930.8 1296.0,929.2 1296.2,927.7 1296.4,926.2 1296.6,924.7 1296.9,923.2 1297.1,921.7 1297.3,920.2 1297.6,918.6 1297.8,917.1 1298.1,915.5 1298.3,914.0 1298.6,912.4 1298.8,910.9 1299.1,909.4 1299.4,907.8 1299.6,906.3 1299.9,904.8 1300.2,903.3 1300.4,901.9 1300.7,900.4 1301.0,899.0 1301.3,897.3 1301.7,895.7 1302.0,894.1 1302.4,892.5 1302.7,890.9 1303.1,889.3 1303.4,887.8 1303.8,886.2 1304.2,884.7 1304.5,883.2 1304.9,881.7 1305.3,880.2 1305.6,878.7 1306.0,877.2 1306.4,875.7 1306.7,874.2 1307.1,872.7 1307.5,871.1 1307.8,869.5 1308.2,867.9 1308.6,866.3 1308.9,864.7 1309.3,863.1 1309.7,861.5 1310.0,860.0 1310.4,858.4 1310.8,856.9 1311.1,855.4 1311.5,853.9 1311.9,852.5 1312.3,851.1 1312.7,849.8 1313.1,848.5 1313.7,846.7 1314.3,845.0 1315.0,843.4 1315.6,841.8 1316.3,840.4 1317.0,838.9 1317.6,837.5 1318.3,836.2 1319.0,834.9 1319.6,833.6 1320.2,832.4 1321.0,830.7 1321.8,829.1 1322.6,827.6 1323.4,826.2 1324.1,824.8 1324.9,823.5 1325.6,822.4 1326.3,821.3 1327.6,819.5 1328.9,818.1 1330.1,817.0 1331.3,816.3 1333.0,816.0 1334.7,816.3 1336.3,816.9 1337.7,818.1 1338.9,819.6 1340.4,820.3 1341.8,819.7 1343.3,818.4 1344.9,817.1 1346.4,816.3 1348.2,816.0 1349.8,816.3 1351.5,817.3 1352.3,818.2 1353.1,819.4 1353.9,820.8 1354.7,822.4 1355.6,823.9 1356.5,825.4 1357.4,826.6 1358.3,827.9 1359.3,829.2 1360.3,830.5 1361.4,831.8 1362.4,833.1 1363.5,834.4 1364.6,835.7 1365.7,837.2 1366.9,838.6 1368.1,840.0 1369.3,841.2 1370.4,842.2 1371.6,842.9 1373.3,843.1 1375.0,842.7 1376.7,842.0 1378.3,841.5 1379.7,841.5 1380.9,842.2 1382.0,843.3 1382.9,844.6 1383.8,846.0 1384.7,847.5 1385.4,848.8 1386.1,850.4 1386.8,852.0 1387.5,853.6 1388.1,854.8 1388.8,855.6 1390.8,855.7 1392.8,853.6 1393.3,852.4 1393.9,850.8 1394.4,848.9 1394.9,847.0 1395.3,845.3 1395.8,844.1 1396.2,843.5 1396.6,844.1 1397.0,845.9 1397.3,848.2 1397.6,850.3 1398.2,851.6 1399.5,851.9 1401.1,851.0 1402.9,849.6 1403.8,848.7 1404.6,847.5 1405.5,846.1 1406.5,844.8 1407.6,843.5 1408.9,842.5 1410.2,841.9 1411.7,841.4 1413.4,841.0 1415.0,840.6 1416.8,840.3 1418.4,840.0 1420.0,839.5 1421.5,838.9 1423.1,838.2 1424.6,837.4 1426.1,836.6 1427.5,836.0 1428.9,835.6 1430.1,835.4 1431.9,835.6 1433.4,836.2 1434.8,837.5 1436.1,839.5 1436.7,840.5 1437.2,841.7 1437.7,843.1 1438.3,844.5 1438.8,846.0 1439.3,847.7 1439.8,849.3 1440.3,851.1 1440.7,852.8 1441.2,854.6 1441.5,856.0 1441.9,857.4 1442.2,858.8 1442.5,860.3 1442.8,861.8 1443.1,863.4 1443.4,864.9 1443.7,866.5 1444.0,868.1 1444.3,869.8 1444.6,871.4 1444.9,873.1 1445.2,874.8 1445.4,876.2 1445.7,877.7 1445.9,879.2 1446.2,880.7 1446.4,882.3 1446.7,883.9 1446.9,885.4 1447.2,887.0 1447.4,888.6 1447.7,890.2 1447.9,891.8 1448.2,893.3 1448.4,894.8 1448.7,896.2 1448.9,897.6 1449.2,899.0 1449.5,900.7 1449.9,902.4 1450.2,904.0 1450.6,905.6 1451.0,907.1 1451.3,908.6 1451.7,910.0 1452.0,911.4 1452.4,912.9 1452.7,914.3 1453.0,915.7 1453.3,917.1 1453.6,918.8 1454.0,920.5 1454.3,922.2 1454.6,923.9 1454.9,925.6 1455.2,927.2 1455.5,928.8 1455.7,930.4 1456.0,931.8 1456.3,933.2 1456.7,935.1 1457.2,937.0 1457.6,938.8 1458.0,940.4 1458.4,941.9 1458.8,943.1 1459.0,944.0" fill="none" stroke="#000" stroke-width="6" stroke-linejoin="round" stroke-linecap="butt"/>
<polyline points="148.0,1129.5 148.6,1129.8 152.0,1129.7 153.0,1129.6 153.0,1129.6 154.0,1129.5 155.0,1129.5 156.0,1128.8 157.0,1129.2 158.0,1129.4 159.0,1129.7 160.0,1127.8 161.0,1128.2 162.0,1127.4 163.0,1129.6 164.0,1129.1 165.0,1126.5 166.0,1130.3 167.0,1130.2 168.0,1128.7 169.0,1128.4 170.0,1125.7 171.0,1124.6 172.0,1127.6 173.0,1124.4 174.0,1125.0 175.0,1125.1 176.0,1123.2 177.0,1126.4 178.0,1125.9 179.0,1129.2 180.0,1126.1 181.0,1127.0 182.0,1125.4 183.0,1126.7 184.0,1124.5 185.0,1122.5 186.0,1129.3 187.0,1129.2 188.0,1127.5 189.0,1126.0 190.0,1121.8 191.0,1115.7 192.0,1116.6 193.0,1118.9 194.0,1126.6 195.0,1122.5 196.0,1127.6 197.0,1122.4 198.0,1129.1 199.0,1127.9 200.0,1117.9 201.0,1120.5 202.0,1129.0 203.0,1123.9 204.0,1130.1 205.0,1123.2 206.0,1119.5 207.0,1126.3 208.0,1128.3 209.0,1122.3 210.0,1120.3 211.0,1123.4 212.0,1131.3 213.0,1129.0 214.0,1121.4 215.0,1116.5 216.0,1119.2 217.0,1121.4 218.0,1130.6 219.0,1123.3 220.0,1128.3 221.0,1127.2 222.0,1124.4 223.0,1131.4 224.0,1124.3 225.0,1131.0 226.0,1124.8 227.0,1128.9 228.0,1126.7 229.0,1127.7 230.0,1136.7 231.0,1135.0 232.0,1129.2 233.0,1136.7 234.0,1128.7 235.0,1131.3 236.0,1137.3 237.0,1135.0 238.0,1128.5 239.0,1139.8 240.0,1130.3 241.0,1142.0 242.0,1137.3 243.0,1131.6 244.0,1130.7 245.0,1127.0 246.0,1126.4 247.0,1120.2 248.0,1121.8 249.0,1133.7 250.0,1131.7 251.0,1133.6 252.0,1141.0 253.0,1136.0 254.0,1138.1 255.0,1142.6 256.0,1134.6 257.0,1134.6 258.0,1144.5 259.0,1143.5 260.0,1136.3 261.0,1135.5 262.0,1132.5 263.0,1145.3 264.0,1136.0 265.0,1146.0 266.0,1145.6 267.0,1142.7 268.0,1141.0 269.0,1137.5 270.0,1137.3 271.0,1149.8 272.0,1140.9 273.0,1147.1 274.0,1141.4 275.0,1148.7 276.0,1145.6 277.0,1141.7 278.0,1140.2 279.0,1133.9 280.0,1134.9 281.0,1144.7 282.0,1152.3 283.0,1161.3 284.0,1157.7 285.0,1154.8 286.0,1161.3 287.0,1154.5 288.0,1152.9 289.0,1154.5 290.0,1155.5 291.0,1152.1 292.0,1153.0 293.0,1154.9 294.0,1157.4 295.0,1155.0 296.0,1155.4 297.0,1163.8 298.0,1165.4 299.0,1163.5 300.0,1164.4 301.0,1164.0 302.0,1161.0 303.0,1160.6 304.0,1160.9 305.0,1168.5 306.0,1167.3 307.0,1169.8 308.0,1162.8 309.0,1168.2 310.0,1162.2 311.0,1164.0 312.0,1168.1 313.0,1173.5 314.0,1168.6 315.0,1172.4 316.0,1174.3 317.0,1175.8 318.0,1175.9 319.0,1176.6 320.0,1177.8 321.0,1179.0 322.0,1177.8 323.0,1179.8 324.0,1181.3 325.0,1181.9 326.0,1181.2 327.0,1183.2 328.0,1184.1 329.0,1183.9 330.0,1184.8 331.0,1184.7 332.0,1185.9 333.0,1186.5 334.0,1185.8 335.0,1187.8 336.0,1189.3 337.0,1189.7 338.0,1190.1 339.0,1190.2 340.0,1191.7 341.0,1192.2 342.0,1192.8 343.0,1194.3 344.0,1194.0 345.0,1195.7 346.0,1195.5 347.0,1196.9 348.0,1197.5 349.0,1197.9 350.0,1199.0 351.0,1199.5 352.0,1200.3 352.9,1200.8 354.4,1201.9 356.0,1203.0 357.5,1204.0 358.9,1204.9 360.0,1205.6 360.9,1206.5 363.0,1206.8 364.0,1206.9 365.1,1207.1 366.4,1207.3 367.8,1207.5 369.3,1207.7 370.9,1207.8 372.5,1207.9 374.3,1207.8 376.1,1207.7 378.0,1207.3 379.9,1206.8 381.0,1206.4 382.2,1205.9 383.4,1205.3 384.6,1204.7 385.9,1204.0 387.2,1203.3 388.5,1202.5 389.9,1201.7 391.2,1200.9 392.6,1200.0 394.0,1199.2 395.4,1198.3 396.8,1197.4 398.2,1196.6 399.6,1195.7 401.0,1194.9 402.5,1194.1 403.9,1193.4 405.3,1192.7 406.6,1192.1 408.0,1191.5 409.4,1190.9 410.8,1190.4 412.2,1189.9 413.6,1189.4 415.0,1188.9 416.4,1188.4 417.8,1187.9 419.2,1187.4 420.6,1186.9 422.1,1186.4 423.5,1185.9 424.9,1185.3 426.4,1184.8 427.8,1184.2 429.2,1183.5 430.7,1182.9 432.1,1182.2 433.5,1181.4 434.7,1180.7 436.0,1180.0 437.2,1179.2 438.4,1178.4 439.6,1177.6 440.9,1176.7 442.1,1175.8 443.3,1174.9 444.6,1174.0 445.8,1173.1 447.0,1172.1 448.3,1171.2 449.5,1170.3 450.7,1169.3 452.0,1168.4 453.2,1167.5 454.4,1166.6 455.7,1165.7 456.9,1164.8 458.1,1164.0 459.3,1163.1 460.6,1162.4 461.8,1161.6 463.2,1160.8 464.5,1160.0 465.9,1159.2 467.3,1158.4 468.6,1157.6 470.0,1156.9 471.4,1156.1 472.8,1155.4 474.2,1154.7 475.6,1154.0 476.9,1153.3 478.3,1152.6 479.7,1151.9 481.0,1151.3 482.4,1150.7 483.7,1150.1 485.0,1149.5 486.3,1149.0 487.5,1148.5 488.8,1148.0 490.0,1147.5 491.7,1146.9 493.4,1146.4 495.1,1145.9 496.7,1145.4 498.4,1145.0 500.0,1144.7 501.6,1144.3 503.1,1144.0 504.6,1143.8 506.1,1143.6 507.5,1143.4 508.9,1143.2 510.2,1143.0 511.4,1142.8 512.6,1142.7 514.8,1142.4 516.8,1142.2 518.5,1142.1 520.0,1142.1 521.3,1142.3 522.6,1142.7 523.9,1143.3 525.0,1144.2 525.9,1145.6 526.8,1147.3 527.7,1149.0 528.5,1150.7 529.2,1152.0 530.0,1152.9 530.9,1153.1 531.7,1152.6 532.4,1151.6 533.2,1150.2 534.0,1148.5 534.7,1146.6 535.5,1144.7 536.3,1143.0 537.2,1141.5 538.0,1140.4 539.6,1139.3 541.4,1138.7 543.2,1138.4 544.9,1138.2 546.4,1137.6 547.7,1136.5 548.9,1135.0 550.0,1133.5 551.0,1132.4 552.1,1132.0 553.3,1132.7 554.5,1134.2 555.7,1136.0 556.8,1137.8 557.7,1139.0 559.8,1140.1 561.1,1140.1 562.7,1140.0 564.5,1139.7 566.4,1139.3 568.2,1138.7 569.4,1137.9 570.6,1136.9 571.8,1135.7 573.1,1134.5 574.3,1133.4 575.5,1132.6 576.7,1132.2 577.4,1132.4 578.0,1135.2 580.4,1136.1 585.2,1136.7 586.1,1136.7 587.0,1136.8 588.0,1136.8 589.0,1136.8 590.0,1136.9 591.1,1136.9 592.3,1136.9 593.5,1136.9 594.7,1136.9 595.9,1136.9 597.2,1136.9 598.6,1136.9 599.9,1136.9 601.3,1136.8 602.8,1136.8 604.2,1136.8 605.7,1136.8 607.2,1136.8 608.7,1136.7 610.3,1136.7 611.9,1136.7 613.5,1136.7 615.1,1136.6 616.7,1136.6 618.4,1136.6 620.1,1136.5 621.8,1136.5 623.5,1136.5 625.2,1136.4 626.9,1136.4 628.6,1136.4 630.3,1136.3 632.1,1136.3 633.8,1136.3 635.6,1136.3 637.3,1136.2 639.1,1136.2 640.8,1136.2 642.6,1136.2 644.3,1136.1 646.0,1136.1 647.8,1136.1 649.5,1136.1 651.2,1136.1 652.9,1136.1 654.3,1136.1 655.7,1136.1 657.1,1136.1 658.6,1136.1 660.1,1136.1 661.6,1136.1 663.1,1136.1 664.7,1136.1 666.2,1136.1 667.8,1136.1 669.4,1136.1 671.0,1136.1 672.7,1136.1 674.3,1136.2 676.0,1136.2 677.7,1136.2 679.4,1136.2 681.0,1136.2 682.7,1136.2 684.4,1136.2 686.1,1136.2 687.9,1136.2 689.6,1136.2 691.3,1136.2 693.0,1136.3 694.7,1136.3 696.4,1136.3 698.1,1136.3 699.8,1136.3 701.4,1136.3 703.1,1136.3 704.8,1136.3 706.4,1136.4 708.0,1136.4 709.6,1136.4 711.2,1136.4 712.8,1136.4 714.4,1136.4 715.9,1136.4 717.4,1136.5 718.9,1136.5 720.4,1136.5 721.8,1136.5 723.3,1136.5 724.6,1136.5 726.0,1136.5 727.3,1136.6 728.6,1136.6 729.9,1136.6 731.1,1136.6 732.3,1136.6 733.4,1136.6 734.5,1136.7 735.6,1136.7 736.6,1136.7 737.6,1136.7 740.9,1136.7 743.8,1136.8 746.3,1136.8 748.5,1136.8 750.3,1136.8 751.9,1136.8 753.2,1136.8 754.3,1136.8 755.3,1136.8 756.1,1136.9 756.9,1137.0 757.7,1137.1 758.4,1137.3 759.3,1137.5 760.2,1137.8 762.0,1138.8 763.4,1140.2 764.4,1141.9 765.2,1143.5 765.8,1144.8 766.5,1145.7 767.2,1145.7 767.8,1145.0 768.4,1143.6 768.8,1141.8 769.3,1139.7 769.8,1137.5 770.3,1135.4 770.8,1133.6 771.3,1132.3 772.0,1131.6 772.7,1131.8 773.0,1132.8 773.4,1134.3 773.9,1136.2 775.0,1138.0 776.9,1139.6 779.9,1140.6 780.8,1140.7 781.8,1140.9 782.9,1141.0 784.0,1141.1 785.2,1141.1 786.4,1141.2 787.7,1141.2 789.1,1141.2 790.5,1141.2 791.9,1141.2 793.4,1141.2 794.9,1141.2 796.4,1141.1 798.0,1141.1 799.6,1141.0 801.3,1141.0 802.9,1140.9 804.6,1140.9 806.3,1140.8 808.1,1140.8 809.8,1140.7 811.6,1140.7 813.3,1140.6 815.1,1140.6 816.9,1140.6 818.7,1140.6 820.4,1140.6 822.2,1140.6 823.6,1140.6 824.9,1140.6 826.3,1140.7 827.8,1140.7 829.2,1140.7 830.7,1140.7 832.2,1140.7 833.7,1140.8 835.3,1140.8 836.8,1140.8 838.4,1140.9 840.0,1140.9 841.6,1140.9 843.2,1140.9 844.8,1141.0 846.4,1141.0 848.1,1141.0 849.7,1141.1 851.3,1141.1 852.9,1141.1 854.6,1141.2 856.2,1141.2 857.8,1141.3 859.4,1141.3 861.0,1141.3 862.6,1141.4 864.1,1141.4 865.7,1141.4 867.2,1141.5 868.7,1141.5 870.2,1141.6 871.7,1141.6 873.2,1141.6 874.6,1141.7 876.0,1141.7 877.4,1141.8 878.7,1141.8 880.0,1142.0 881.0,1142.1 882.0,1142.1 883.0,1141.6 884.0,1142.0 885.0,1141.9 886.0,1142.1 887.0,1141.6 888.0,1141.7 889.0,1142.0 890.0,1141.8 891.0,1142.1 892.0,1141.5 893.0,1141.5 894.0,1142.7 895.0,1142.2 896.0,1142.4 897.0,1142.9 898.0,1142.1 899.0,1141.4 900.0,1143.2 901.0,1142.8 902.0,1143.0 903.0,1142.9 904.0,1143.9 905.0,1142.3 906.0,1143.5 907.0,1142.4 908.0,1143.0 909.0,1143.4 910.0,1142.3 911.0,1141.6 912.0,1142.9 913.0,1143.8 914.0,1143.4 915.0,1143.0 916.0,1143.8 917.0,1142.1 918.0,1142.1 919.0,1142.7 920.0,1144.7 921.0,1142.4 922.0,1142.1 923.0,1142.1 924.0,1142.0 925.0,1143.3 926.0,1145.0 927.0,1146.8 928.0,1144.7 929.0,1144.7 930.0,1144.1 931.0,1143.8 932.0,1145.6 933.0,1144.0 934.0,1142.2 935.0,1141.1 936.0,1144.1 937.0,1143.6 938.0,1144.2 939.0,1141.4 940.0,1143.2 941.0,1145.3 942.0,1144.1 943.0,1146.3 944.0,1142.8 945.0,1147.3 946.0,1143.1 947.0,1145.4 948.0,1143.9 949.0,1148.4 950.0,1148.4 951.0,1150.5 952.0,1150.2 953.0,1151.4 954.0,1149.7 955.0,1152.1 956.0,1150.6 957.0,1147.9 958.0,1150.2 959.0,1145.8 960.0,1143.5 961.0,1142.0 962.0,1143.5 963.0,1141.9 964.0,1145.9 965.0,1146.4 966.0,1142.9 967.0,1142.8 968.0,1145.6 969.0,1144.2 970.0,1146.8 971.0,1148.7 972.0,1146.0 973.0,1147.1 974.0,1149.7 975.0,1147.1 976.0,1146.4 977.0,1149.1 978.0,1148.4 979.0,1148.7 980.0,1147.5 981.0,1146.7 982.0,1151.7 983.0,1153.3 984.0,1151.9 985.0,1149.0 986.0,1148.5 987.0,1148.4 988.0,1150.1 989.0,1148.1 990.0,1147.9 991.0,1150.3 992.0,1145.8 993.0,1152.3 994.0,1152.3 995.0,1156.5 996.0,1159.5 997.0,1152.3 998.0,1155.1 999.0,1143.8 1000.0,1147.1 1001.0,1147.4 1002.0,1145.8 1003.0,1150.6 1004.0,1151.7 1005.0,1153.6 1006.0,1158.8 1007.0,1155.6 1008.0,1162.2 1009.0,1168.4 1010.0,1163.3 1011.0,1168.7 1012.0,1159.6 1013.0,1160.5 1014.0,1152.9 1015.0,1154.2 1016.0,1155.7 1017.0,1156.9 1018.0,1165.9 1019.0,1165.5 1020.0,1168.0 1021.0,1166.9 1022.0,1167.2 1023.0,1166.9 1024.0,1165.0 1025.0,1169.4 1026.0,1163.4 1027.0,1168.3 1028.0,1167.7 1029.0,1165.3 1030.0,1166.2 1031.0,1165.2 1032.0,1164.3 1033.0,1162.8 1034.0,1162.2 1035.0,1161.7 1036.0,1160.8 1037.0,1162.1 1038.0,1159.2 1039.0,1158.2 1040.0,1157.0 1041.0,1156.9 1042.0,1154.6 1043.0,1153.8 1044.0,1152.1 1045.0,1151.6 1046.0,1150.7 1047.0,1150.9 1048.0,1151.0 1049.0,1152.9 1050.0,1151.8 1051.0,1150.6 1052.0,1151.8 1053.0,1150.8 1054.0,1152.3 1055.0,1152.0 1056.0,1154.3 1057.0,1150.8 1058.0,1155.1 1059.0,1150.0 1060.0,1156.2 1061.0,1151.5 1062.0,1142.9 1063.0,1152.6 1064.0,1151.7 1065.0,1157.3 1066.0,1159.4 1067.0,1168.8 1068.0,1160.4 1069.0,1161.4 1070.0,1151.3 1071.0,1149.9 1072.0,1145.6 1073.0,1145.0 1074.0,1155.9 1075.0,1156.0 1076.0,1153.5 1077.0,1163.1 1078.0,1162.3 1079.0,1153.1 1080.0,1148.5 1081.0,1151.3 1082.0,1144.3 1083.0,1150.6 1084.0,1153.3 1085.0,1161.6 1086.0,1161.1 1087.0,1162.1 1088.0,1160.8 1089.0,1157.1 1090.0,1156.7 1091.0,1154.3 1092.0,1153.4 1093.0,1154.4 1094.0,1162.8 1095.0,1158.4 1096.0,1161.8 1097.0,1162.4 1098.0,1166.2 1099.0,1166.5 1100.0,1169.3 1101.0,1165.7 1102.0,1163.0 1103.0,1163.3 1104.0,1163.6 1105.0,1165.6 1106.0,1162.4 1107.0,1167.5 1108.0,1169.0 1109.0,1169.5 1110.0,1164.3 1111.0,1166.2 1112.0,1168.8 1113.0,1169.1 1114.0,1164.3 1115.0,1166.4 1116.0,1168.4 1117.0,1168.5 1118.0,1167.2 1119.0,1165.3 1120.0,1166.4 1121.0,1164.5 1122.0,1166.1 1123.0,1167.1 1124.0,1169.8 1125.0,1169.1 1126.0,1168.8 1127.0,1168.2 1128.0,1168.6 1129.0,1170.3 1130.0,1168.5 1131.0,1166.5 1132.0,1169.2 1133.0,1167.3 1134.0,1168.7 1135.0,1166.1 1136.0,1166.3 1137.0,1165.6 1138.0,1167.1 1139.0,1169.4 1140.0,1170.6 1141.0,1169.8 1142.0,1169.4 1143.0,1168.3 1144.0,1172.5 1145.0,1171.0 1146.0,1171.5 1147.0,1170.6 1148.0,1171.1 1149.0,1173.3 1150.0,1176.4 1151.0,1175.9 1152.0,1176.3 1153.0,1176.6 1154.0,1175.4 1155.0,1175.5 1156.0,1177.8 1157.0,1176.0 1158.0,1178.7 1159.0,1178.9 1160.0,1179.4 1161.0,1178.2 1162.0,1178.4 1163.0,1180.5 1164.0,1179.7 1165.0,1182.0 1166.0,1181.2 1167.0,1182.8 1168.0,1183.7 1169.0,1183.5 1170.0,1183.6 1171.0,1182.7 1172.0,1183.5 1173.0,1186.1 1174.0,1183.8 1175.0,1184.2 1176.0,1185.4 1177.0,1186.0 1178.0,1187.4 1179.0,1186.4 1180.0,1189.4 1181.0,1187.0 1182.0,1190.3 1183.0,1190.4 1184.0,1192.3 1185.0,1190.8 1186.0,1193.4 1187.0,1195.0 1188.0,1195.0 1189.0,1194.4 1190.0,1197.4 1191.0,1198.3 1192.0,1197.2 1193.0,1199.7 1194.0,1199.1 1195.0,1200.0 1196.0,1202.2 1197.0,1202.9 1198.0,1204.2 1199.0,1204.6 1200.0,1205.4 1201.0,1206.1 1202.0,1207.4 1203.0,1208.6 1204.0,1209.3 1205.0,1210.2 1205.7,1210.7 1206.8,1211.7 1207.9,1212.7 1209.0,1213.8 1210.2,1214.9 1211.3,1216.0 1212.3,1217.2 1213.4,1218.4 1214.4,1219.7 1215.2,1220.9 1216.1,1222.1 1216.9,1223.3 1217.7,1224.7 1218.5,1226.0 1219.3,1227.4 1220.0,1228.7 1220.8,1230.1 1221.5,1231.5 1222.3,1232.9 1223.0,1234.3 1223.7,1235.6 1224.4,1236.9 1225.2,1238.3 1225.9,1239.6 1226.6,1240.9 1227.4,1242.1 1228.1,1243.4 1228.8,1244.6 1229.4,1245.9 1230.1,1247.2 1230.7,1248.6 1231.4,1250.0 1231.9,1251.4 1232.5,1253.0 1232.9,1254.3 1233.3,1255.8 1233.6,1257.4 1233.9,1259.0 1234.2,1260.7 1234.5,1262.4 1234.7,1264.1 1235.0,1265.8 1235.3,1267.4 1235.6,1269.0 1235.9,1270.5 1236.2,1271.9 1236.6,1273.2 1237.0,1274.3 1237.5,1275.2 1238.7,1276.5 1240.2,1277.0 1241.8,1277.1 1243.4,1276.9 1245.0,1276.9 1246.4,1277.2 1247.6,1278.2 1248.2,1279.2 1248.7,1280.5 1249.2,1281.9 1249.6,1283.4 1250.0,1285.1 1250.3,1286.8 1250.6,1288.6 1250.9,1290.3 1251.2,1292.1 1251.4,1293.7 1251.7,1295.3 1252.0,1297.0 1252.2,1298.8 1252.3,1300.6 1252.4,1302.4 1252.5,1304.2 1252.6,1305.9 1252.8,1307.5 1253.0,1309.0 1253.3,1310.3 1253.7,1311.5 1254.8,1313.1 1256.3,1313.8 1257.9,1314.3 1259.5,1315.0 1260.7,1316.5 1261.2,1317.6 1261.6,1318.9 1261.9,1320.3 1262.2,1321.8 1262.5,1323.4 1262.8,1325.0 1263.0,1326.7 1263.2,1328.4 1263.5,1330.0 1263.8,1331.6 1264.1,1333.2 1264.4,1334.9 1264.7,1336.5 1265.1,1338.3 1265.4,1340.0 1265.7,1341.6 1266.0,1343.3 1266.3,1344.8 1266.5,1346.3 1266.8,1347.7 1267.2,1349.8 1267.5,1351.6 1267.7,1353.2 1268.0,1354.8 1268.4,1356.3 1268.8,1357.8 1269.3,1359.4 1270.0,1361.2 1270.7,1362.9 1271.4,1364.3 1272.1,1365.4 1272.8,1365.9 1273.8,1365.6 1274.8,1364.4 1275.8,1362.4 1276.9,1359.8 1277.3,1358.7 1277.7,1357.5 1278.1,1356.1 1278.6,1354.6 1279.0,1353.0 1279.4,1351.4 1279.9,1349.8 1280.4,1348.2 1280.9,1346.6 1281.4,1345.1 1281.9,1343.7 1282.5,1342.2 1283.3,1340.8 1284.0,1339.4 1284.8,1338.1 1285.6,1336.8 1286.4,1335.4 1287.1,1334.1 1287.8,1332.6 1288.4,1331.2 1289.0,1329.6 1289.4,1328.2 1289.7,1326.8 1290.0,1325.4 1290.3,1323.9 1290.5,1322.4 1290.8,1320.9 1291.0,1319.4 1291.2,1317.8 1291.3,1316.3 1291.5,1314.7 1291.8,1313.1 1292.0,1311.5 1292.2,1310.0 1292.4,1308.5 1292.7,1307.0 1292.9,1305.5 1293.1,1304.0 1293.3,1302.4 1293.5,1300.9 1293.7,1299.3 1293.9,1297.7 1294.2,1296.1 1294.4,1294.5 1294.7,1292.9 1295.0,1291.3 1295.3,1289.9 1295.6,1288.4 1295.9,1286.9 1296.2,1285.3 1296.6,1283.7 1296.9,1282.2 1297.3,1280.6 1297.6,1279.0 1298.0,1277.5 1298.3,1276.0 1298.7,1274.5 1299.0,1273.1 1299.4,1271.7 1299.7,1270.3 1300.0,1269.1 1300.5,1267.2 1300.9,1265.6 1301.4,1264.1 1301.8,1262.7 1302.2,1261.4 1302.6,1260.0 1303.1,1258.5 1303.6,1256.9 1304.1,1255.0 1304.4,1253.7 1304.8,1252.4 1305.2,1250.9 1305.5,1249.4 1305.9,1247.9 1306.3,1246.3 1306.7,1244.7 1307.1,1243.1 1307.5,1241.5 1307.9,1239.9 1308.4,1238.4 1308.8,1236.9 1309.2,1235.4 1309.7,1234.1 1310.1,1232.8 1310.8,1231.1 1311.5,1229.5 1312.2,1228.1 1313.0,1226.8 1313.8,1225.5 1314.5,1224.2 1315.3,1223.0 1316.0,1221.6 1316.6,1220.2 1317.2,1218.7 1317.6,1217.3 1318.0,1215.8 1318.4,1214.3 1318.7,1212.7 1319.0,1211.0 1319.3,1209.4 1319.5,1207.8 1319.8,1206.2 1320.1,1204.7 1320.4,1203.2 1320.8,1201.8 1321.2,1200.6 1322.0,1198.7 1322.9,1197.0 1323.8,1195.6 1324.7,1194.2 1325.6,1192.9 1326.5,1191.7 1327.3,1190.5 1328.2,1188.8 1329.0,1187.1 1329.7,1185.6 1330.5,1184.3 1331.3,1183.4 1332.9,1182.8 1334.7,1182.9 1336.3,1183.4 1337.7,1184.4 1338.9,1185.7 1340.4,1186.5 1341.8,1186.3 1343.3,1185.6 1344.9,1184.8 1346.4,1184.4 1348.1,1184.1 1349.8,1184.2 1351.5,1185.4 1352.2,1186.3 1352.9,1187.5 1353.7,1189.0 1354.4,1190.5 1355.2,1192.1 1356.0,1193.7 1356.7,1195.2 1357.5,1196.5 1358.5,1198.0 1359.4,1199.4 1360.4,1200.8 1361.3,1202.0 1362.4,1203.3 1363.5,1204.6 1364.5,1205.8 1365.7,1207.1 1366.8,1208.4 1368.0,1209.6 1369.2,1210.7 1370.4,1211.6 1371.6,1212.3 1373.3,1212.6 1375.0,1212.3 1376.7,1211.8 1378.3,1211.5 1379.7,1211.7 1380.9,1212.6 1382.0,1214.0 1382.9,1215.6 1383.8,1217.2 1384.7,1218.7 1385.8,1220.5 1386.8,1222.2 1387.8,1223.8 1388.8,1224.8 1390.4,1225.3 1392.0,1225.1 1393.4,1223.8 1393.9,1222.4 1394.4,1220.4 1394.7,1218.1 1395.1,1216.0 1395.4,1214.4 1395.8,1213.7 1396.2,1214.2 1396.5,1215.7 1396.9,1217.6 1397.2,1219.7 1397.7,1221.6 1398.2,1222.7 1399.5,1223.3 1401.0,1222.8 1402.9,1221.7 1404.0,1220.9 1405.3,1219.8 1406.6,1218.6 1408.0,1217.4 1409.5,1216.4 1410.9,1215.7 1412.4,1215.5 1413.9,1215.6 1415.4,1215.8 1416.9,1216.2 1418.5,1216.5 1420.0,1216.7 1421.6,1216.7 1423.1,1216.6 1424.7,1216.4 1426.3,1216.3 1427.8,1216.4 1429.1,1216.7 1430.5,1217.4 1431.8,1218.2 1432.9,1219.3 1434.0,1220.8 1435.1,1222.7 1435.6,1223.8 1436.1,1225.0 1436.6,1226.3 1437.0,1227.7 1437.5,1229.2 1437.9,1230.7 1438.4,1232.3 1438.8,1233.9 1439.3,1235.6 1439.7,1237.2 1440.2,1238.9 1440.6,1240.3 1441.0,1241.8 1441.4,1243.3 1441.8,1244.8 1442.2,1246.3 1442.6,1247.9 1443.0,1249.5 1443.4,1251.1 1443.7,1252.7 1444.1,1254.3 1444.5,1255.9 1444.8,1257.4 1445.2,1259.0 1445.5,1260.6 1445.9,1262.1 1446.2,1263.7 1446.5,1265.3 1446.8,1266.9 1447.1,1268.6 1447.4,1270.1 1447.7,1271.7 1448.0,1273.3 1448.3,1274.8 1448.6,1276.3 1448.9,1277.8 1449.2,1279.2 1449.6,1280.8 1450.0,1282.4 1450.3,1284.0 1450.7,1285.5 1451.1,1287.0 1451.5,1288.5 1451.9,1289.9 1452.3,1291.3 1452.6,1292.7 1453.0,1294.0 1453.3,1295.3 1453.7,1297.0 1454.1,1298.6 1454.5,1300.2 1454.9,1301.7 1455.2,1303.1 1455.6,1304.6 1455.9,1306.0 1456.3,1307.4 1456.7,1309.1 1457.2,1310.8 1457.6,1312.6 1458.0,1314.3 1458.4,1315.8 1458.8,1317.1 1459.0,1318.0" fill="none" stroke="#000" stroke-width="6" stroke-linejoin="round" stroke-linecap="butt"/>
<path d="M148.2,1814.5 V30.2 H1459.2 V1803" fill="none" stroke="#000" stroke-width="6.2" stroke-linejoin="miter"/>
<line x1="145.1" y1="1791.5" x2="1462.0" y2="1791.5" stroke="#000" stroke-width="6.6"/>
<line x1="523.0" y1="1791" x2="523.0" y2="1814.5" stroke="#000" stroke-width="6.2"/>
<line x1="897.0" y1="1791" x2="897.0" y2="1814.5" stroke="#000" stroke-width="6.2"/>
<line x1="1271.8" y1="1791" x2="1271.8" y2="1814.5" stroke="#000" stroke-width="6.2"/>
<line x1="335.0" y1="1791" x2="335.0" y2="1803.7" stroke="#000" stroke-width="6.2"/>
<line x1="710.0" y1="1791" x2="710.0" y2="1803.7" stroke="#000" stroke-width="6.2"/>
<line x1="1085.0" y1="1791" x2="1085.0" y2="1803.7" stroke="#000" stroke-width="6.2"/>
<rect x="358.2" y="57.2" width="9.6" height="9.6" fill="#f00"/>
<rect x="358.2" y="102.8" width="9.6" height="9.6" fill="#f00"/>
<rect x="358.2" y="148.3" width="9.6" height="9.6" fill="#f00"/>
<rect x="358.2" y="193.9" width="9.6" height="9.6" fill="#f00"/>
<rect x="358.2" y="239.5" width="9.6" height="9.6" fill="#f00"/>
<rect x="358.2" y="285.1" width="9.6" height="9.6" fill="#f00"/>
<rect x="358.2" y="330.6" width="9.6" height="9.6" fill="#f00"/>
<rect x="358.2" y="376.2" width="9.6" height="9.6" fill="#f00"/>
<rect x="358.2" y="421.8" width="9.6" height="9.6" fill="#f00"/>
<rect x="358.2" y="467.3" width="9.6" height="9.6" fill="#f00"/>
<rect x="356.6" y="512.9" width="9.6" height="9.6" fill="#f00"/>
<rect x="356.6" y="558.5" width="9.6" height="9.6" fill="#f00"/>
<rect x="356.6" y="604.0" width="9.6" height="9.6" fill="#f00"/>
<rect x="356.6" y="649.6" width="9.6" height="9.6" fill="#f00"/>
<rect x="356.6" y="695.2" width="9.6" height="9.6" fill="#f00"/>
<rect x="356.6" y="740.8" width="9.6" height="9.6" fill="#f00"/>
<rect x="356.6" y="786.3" width="9.6" height="9.6" fill="#f00"/>
<rect x="356.6" y="831.9" width="9.6" height="9.6" fill="#f00"/>
<rect x="356.6" y="877.5" width="9.6" height="9.6" fill="#f00"/>
<rect x="356.6" y="923.0" width="9.6" height="9.6" fill="#f00"/>
<rect x="356.6" y="968.6" width="9.6" height="9.6" fill="#f00"/>
<rect x="356.6" y="1014.2" width="9.6" height="9.6" fill="#f00"/>
<rect x="356.6" y="1059.7" width="9.6" height="9.6" fill="#f00"/>
<rect x="356.6" y="1105.3" width="9.6" height="9.6" fill="#f00"/>
<rect x="356.6" y="1150.9" width="9.6" height="9.6" fill="#f00"/>
<rect x="356.6" y="1196.5" width="9.6" height="9.6" fill="#f00"/>
<rect x="356.6" y="1242.0" width="9.6" height="9.6" fill="#f00"/>
<rect x="356.6" y="1287.6" width="9.6" height="9.6" fill="#f00"/>
<rect x="356.6" y="1333.2" width="9.6" height="9.6" fill="#f00"/>
<rect x="354.6" y="1378.7" width="9.6" height="9.6" fill="#f00"/>
<rect x="354.6" y="1424.3" width="9.6" height="9.6" fill="#f00"/>
<rect x="354.6" y="1469.9" width="9.6" height="9.6" fill="#f00"/>
<rect x="354.6" y="1515.4" width="9.6" height="9.6" fill="#f00"/>
<rect x="354.6" y="1561.0" width="9.6" height="9.6" fill="#f00"/>
<rect x="354.6" y="1606.6" width="9.6" height="9.6" fill="#f00"/>
<rect x="354.6" y="1652.2" width="9.6" height="9.6" fill="#f00"/>
<rect x="354.6" y="1697.7" width="9.6" height="9.6" fill="#f00"/>
<rect x="354.6" y="1743.3" width="9.6" height="9.6" fill="#f00"/>
<rect x="354.6" y="1788.9" width="9.6" height="9.6" fill="#f00"/>
<rect x="1026.2" y="48.7" width="9.6" height="9.6" fill="#f00"/>
<rect x="1026.2" y="94.3" width="9.6" height="9.6" fill="#f00"/>
<rect x="1026.2" y="139.8" width="9.6" height="9.6" fill="#f00"/>
<rect x="1026.2" y="185.4" width="9.6" height="9.6" fill="#f00"/>
<rect x="1026.2" y="231.0" width="9.6" height="9.6" fill="#f00"/>
<rect x="1026.2" y="276.6" width="9.6" height="9.6" fill="#f00"/>
<rect x="1026.2" y="322.1" width="9.6" height="9.6" fill="#f00"/>
<rect x="1026.2" y="367.7" width="9.6" height="9.6" fill="#f00"/>
<rect x="1026.2" y="413.3" width="9.6" height="9.6" fill="#f00"/>
<rect x="1026.2" y="458.8" width="9.6" height="9.6" fill="#f00"/>
<rect x="1024.4" y="504.4" width="9.6" height="9.6" fill="#f00"/>
<rect x="1024.4" y="550.0" width="9.6" height="9.6" fill="#f00"/>
<rect x="1024.4" y="595.5" width="9.6" height="9.6" fill="#f00"/>
<rect x="1024.4" y="641.1" width="9.6" height="9.6" fill="#f00"/>
<rect x="1024.4" y="686.7" width="9.6" height="9.6" fill="#f00"/>
<rect x="1024.4" y="732.2" width="9.6" height="9.6" fill="#f00"/>
<rect x="1024.4" y="777.8" width="9.6" height="9.6" fill="#f00"/>
<rect x="1024.4" y="823.4" width="9.6" height="9.6" fill="#f00"/>
<rect x="1024.4" y="869.0" width="9.6" height="9.6" fill="#f00"/>
<rect x="1024.4" y="914.5" width="9.6" height="9.6" fill="#f00"/>
<rect x="1024.4" y="960.1" width="9.6" height="9.6" fill="#f00"/>
<rect x="1024.4" y="1005.7" width="9.6" height="9.6" fill="#f00"/>
<rect x="1024.4" y="1051.2" width="9.6" height="9.6" fill="#f00"/>
<rect x="1024.4" y="1096.8" width="9.6" height="9.6" fill="#f00"/>
<rect x="1024.4" y="1142.4" width="9.6" height="9.6" fill="#f00"/>
<rect x="1024.4" y="1188.0" width="9.6" height="9.6" fill="#f00"/>
<rect x="1024.4" y="1233.5" width="9.6" height="9.6" fill="#f00"/>
<rect x="1024.4" y="1279.1" width="9.6" height="9.6" fill="#f00"/>
<rect x="1024.4" y="1324.7" width="9.6" height="9.6" fill="#f00"/>
<rect x="1022.6" y="1370.2" width="9.6" height="9.6" fill="#f00"/>
<rect x="1022.6" y="1415.8" width="9.6" height="9.6" fill="#f00"/>
<rect x="1022.6" y="1461.4" width="9.6" height="9.6" fill="#f00"/>
<rect x="1022.6" y="1506.9" width="9.6" height="9.6" fill="#f00"/>
<rect x="1022.6" y="1552.5" width="9.6" height="9.6" fill="#f00"/>
<rect x="1022.6" y="1598.1" width="9.6" height="9.6" fill="#f00"/>
<rect x="1022.6" y="1643.7" width="9.6" height="9.6" fill="#f00"/>
<rect x="1022.6" y="1689.2" width="9.6" height="9.6" fill="#f00"/>
<rect x="1022.6" y="1734.8" width="9.6" height="9.6" fill="#f00"/>
<rect x="1022.6" y="1780.4" width="9.6" height="9.6" fill="#f00"/>
<g clip-path="url(#plot)"><polyline points="148.0,1475.6 148.2,1475.5 151.3,1475.6 152.2,1475.6 153.0,1475.7 154.0,1475.7 155.0,1475.8 156.0,1475.7 157.0,1475.9 158.0,1476.0 159.0,1476.1 160.0,1475.8 161.0,1476.0 162.0,1475.9 163.0,1476.4 164.0,1476.3 165.0,1475.9 166.0,1476.7 167.0,1476.8 168.0,1476.6 169.0,1476.6 170.0,1476.2 171.0,1476.1 172.0,1476.7 173.0,1476.3 174.0,1476.5 175.0,1476.6 176.0,1476.4 177.0,1477.0 178.0,1477.0 179.0,1477.7 180.0,1477.3 181.0,1477.6 182.0,1477.4 183.0,1477.8 184.0,1477.6 185.0,1477.4 186.0,1478.5 187.0,1478.6 188.0,1478.4 189.0,1478.3 190.0,1477.9 191.0,1477.2 192.0,1477.4 193.0,1477.8 194.0,1478.8 195.0,1478.4 196.0,1479.1 197.0,1478.5 198.0,1479.4 199.0,1479.3 200.0,1478.2 201.0,1478.5 202.0,1479.6 203.0,1479.0 204.0,1479.8 205.0,1479.0 206.0,1478.5 207.0,1479.4 208.0,1479.6 209.0,1478.9 210.0,1478.7 211.0,1479.0 212.0,1479.9 213.0,1479.6 214.0,1478.7 215.0,1478.2 216.0,1478.4 217.0,1478.7 218.0,1479.7 219.0,1478.9 220.0,1479.4 221.0,1479.3 222.0,1478.9 223.0,1479.7 224.0,1478.8 225.0,1479.6 226.0,1478.9 227.0,1479.3 228.0,1479.1 229.0,1479.2 230.0,1480.2 231.0,1480.1 232.0,1479.4 233.0,1480.3 234.0,1479.4 235.0,1479.8 236.0,1480.5 237.0,1480.3 238.0,1479.6 239.0,1481.0 240.0,1480.0 241.0,1481.5 242.0,1481.3 243.0,1481.0 244.0,1481.4 245.0,1481.8 246.0,1482.9 247.0,1484.2 248.0,1487.5 249.0,1491.0 250.0,1492.8 251.0,1494.8 252.0,1496.6 253.0,1496.5 254.0,1496.4 255.0,1496.2 256.0,1494.6 257.0,1493.8 258.0,1494.0 259.0,1493.4 260.0,1492.2 261.0,1492.2 262.0,1492.3 263.0,1494.4 264.0,1494.7 265.0,1497.1 266.0,1498.6 267.0,1499.8 268.0,1501.0 269.0,1501.8 270.0,1502.6 271.0,1504.3 272.0,1503.7 273.0,1504.6 274.0,1504.2 275.0,1505.0 276.0,1505.0 277.0,1504.9 278.0,1505.2 279.0,1505.2 280.0,1506.1 281.0,1507.9 282.0,1509.7 283.0,1512.0 284.0,1513.4 285.0,1514.8 286.0,1517.2 287.0,1517.9 288.0,1519.0 289.0,1520.5 290.0,1521.7 291.0,1522.3 292.0,1523.4 293.0,1524.5 294.0,1525.6 295.0,1526.0 296.0,1526.8 297.0,1528.5 298.0,1529.4 299.0,1529.9 300.0,1530.7 301.0,1531.3 302.0,1531.7 303.0,1532.3 304.0,1533.0 305.0,1534.5 306.0,1535.0 307.0,1535.9 308.0,1535.7 309.0,1536.8 310.0,1536.7 311.0,1537.4 312.0,1538.3 313.0,1539.3 314.0,1539.1 315.0,1539.9 316.0,1540.5 317.0,1541.1 318.0,1541.4 319.0,1541.8 320.0,1542.2 321.0,1542.7 322.0,1542.8 323.0,1543.4 324.0,1543.9 325.0,1544.2 326.0,1544.4 327.0,1545.0 328.0,1545.4 329.0,1545.6 330.0,1546.1 331.0,1546.4 332.0,1546.9 333.0,1547.3 334.0,1547.6 335.0,1548.2 336.0,1548.8 337.0,1549.2 338.0,1549.6 339.0,1549.9 340.0,1550.5 341.0,1550.9 342.0,1551.3 343.0,1551.8 344.0,1552.1 345.0,1552.6 345.2,1552.7 346.5,1553.2 347.9,1553.8 349.2,1554.3 350.5,1554.8 351.7,1555.2 353.5,1555.8 355.2,1556.4 356.7,1556.8 358.2,1557.3 359.7,1557.6 361.1,1557.9 362.6,1558.0 364.1,1558.1 365.8,1558.1 367.2,1558.0 368.6,1557.9 370.1,1557.7 371.5,1557.5 373.0,1557.3 374.5,1556.9 376.0,1556.5 377.6,1556.0 379.2,1555.4 380.9,1554.6 382.7,1553.8 383.8,1553.2 384.9,1552.6 386.1,1551.8 387.2,1551.1 388.4,1550.2 389.6,1549.4 390.8,1548.5 392.0,1547.5 393.3,1546.6 394.6,1545.6 395.8,1544.6 397.1,1543.7 398.5,1542.7 399.8,1541.8 401.1,1540.9 402.5,1540.0 403.9,1539.1 405.3,1538.3 406.6,1537.6 407.9,1536.9 409.2,1536.3 410.6,1535.6 412.0,1535.0 413.3,1534.4 414.8,1533.8 416.2,1533.2 417.6,1532.6 419.0,1532.0 420.5,1531.4 421.9,1530.8 423.4,1530.2 424.9,1529.6 426.3,1529.0 427.8,1528.4 429.2,1527.7 430.7,1527.0 432.1,1526.3 433.5,1525.6 434.8,1524.9 436.2,1524.1 437.5,1523.4 438.9,1522.6 440.2,1521.8 441.6,1521.0 442.9,1520.2 444.3,1519.3 445.6,1518.5 447.0,1517.7 448.3,1516.8 449.7,1516.0 451.0,1515.1 452.4,1514.3 453.7,1513.4 455.1,1512.6 456.4,1511.8 457.8,1511.0 459.1,1510.2 460.5,1509.4 461.8,1508.7 463.1,1508.0 464.5,1507.2 465.8,1506.5 467.2,1505.7 468.5,1505.0 469.9,1504.3 471.2,1503.5 472.6,1502.8 473.9,1502.1 475.2,1501.4 476.6,1500.7 477.9,1500.0 479.3,1499.3 480.6,1498.7 481.9,1498.0 483.3,1497.4 484.6,1496.8 486.0,1496.2 487.3,1495.7 488.7,1495.1 490.0,1494.6 491.5,1494.1 493.0,1493.5 494.5,1493.1 495.9,1492.6 497.4,1492.2 498.9,1491.7 500.4,1491.3 501.9,1491.0 503.4,1490.6 504.8,1490.3 506.3,1489.9 507.8,1489.6 509.3,1489.3 510.8,1489.0 512.3,1488.7 513.7,1488.4 515.2,1488.1 516.7,1487.8 518.2,1487.5 519.7,1487.2 521.2,1486.9 522.7,1486.7 524.2,1486.4 525.7,1486.1 527.2,1485.9 528.7,1485.7 530.3,1485.4 531.8,1485.2 533.3,1485.0 534.8,1484.8 536.3,1484.6 537.8,1484.4 539.2,1484.2 540.7,1484.0 542.1,1483.8 543.6,1483.6 545.0,1483.5 546.4,1483.3 547.9,1483.1 549.3,1482.9 550.4,1482.7 551.5,1482.5 552.4,1482.4 553.4,1482.2 554.3,1482.0 555.3,1481.9 556.5,1481.8 557.7,1481.6 559.2,1481.5 560.9,1481.4 562.9,1481.3 565.2,1481.2 567.9,1481.1 571.0,1481.0 572.0,1481.0 573.0,1481.0 574.1,1480.9 575.2,1480.9 576.3,1480.9 577.5,1480.9 578.7,1480.9 579.9,1480.9 581.1,1480.8 582.4,1480.8 583.7,1480.8 585.0,1480.8 586.4,1480.8 587.7,1480.8 589.1,1480.8 590.5,1480.8 592.0,1480.8 593.4,1480.8 594.9,1480.8 596.4,1480.8 597.9,1480.8 599.4,1480.7 601.0,1480.7 602.5,1480.7 604.1,1480.7 605.7,1480.7 607.3,1480.7 608.9,1480.7 610.6,1480.7 612.2,1480.7 613.8,1480.7 615.5,1480.7 617.2,1480.8 618.9,1480.8 620.5,1480.8 622.2,1480.8 623.9,1480.8 625.6,1480.8 627.3,1480.8 629.0,1480.8 630.7,1480.8 632.5,1480.8 634.2,1480.8 635.9,1480.8 637.6,1480.8 639.3,1480.8 641.0,1480.8 642.7,1480.8 644.4,1480.8 646.2,1480.8 647.8,1480.8 649.5,1480.8 651.2,1480.8 652.9,1480.8 654.3,1480.8 655.7,1480.8 657.2,1480.8 658.6,1480.8 660.1,1480.8 661.6,1480.8 663.1,1480.8 664.6,1480.8 666.1,1480.8 667.7,1480.8 669.2,1480.8 670.8,1480.8 672.4,1480.8 674.0,1480.8 675.6,1480.8 677.2,1480.8 678.8,1480.8 680.4,1480.8 682.1,1480.7 683.7,1480.7 685.4,1480.7 687.0,1480.7 688.7,1480.7 690.3,1480.7 692.0,1480.7 693.6,1480.7 695.3,1480.7 697.0,1480.7 698.6,1480.7 700.3,1480.7 701.9,1480.7 703.6,1480.7 705.2,1480.7 706.9,1480.7 708.5,1480.7 710.2,1480.7 711.8,1480.7 713.4,1480.7 715.0,1480.7 716.6,1480.7 718.2,1480.7 719.8,1480.7 721.4,1480.7 722.9,1480.7 724.5,1480.7 726.0,1480.7 727.5,1480.7 729.1,1480.7 730.5,1480.8 732.0,1480.8 733.5,1480.8 734.9,1480.8 736.3,1480.8 737.7,1480.8 739.1,1480.8 740.5,1480.8 741.8,1480.8 743.2,1480.9 744.4,1480.9 745.7,1480.9 747.0,1480.9 748.2,1480.9 749.4,1481.0 750.6,1481.0 751.7,1481.0 753.9,1481.1 756.1,1481.1 758.1,1481.2 760.1,1481.2 762.0,1481.3 763.8,1481.4 765.5,1481.5 767.2,1481.6 768.8,1481.6 770.4,1481.7 771.9,1481.8 773.3,1481.9 774.7,1482.0 776.1,1482.1 777.4,1482.2 778.7,1482.3 780.0,1482.4 781.2,1482.5 782.5,1482.6 783.7,1482.7 785.0,1482.9 786.2,1483.0 787.4,1483.1 788.7,1483.2 790.0,1483.3 791.3,1483.4 792.6,1483.5 793.9,1483.6 795.3,1483.6 796.7,1483.7 798.2,1483.8 799.7,1483.9 801.2,1484.0 802.7,1484.1 804.2,1484.1 805.7,1484.2 807.2,1484.3 808.7,1484.4 810.2,1484.4 811.7,1484.5 813.2,1484.6 814.7,1484.7 816.2,1484.7 817.7,1484.8 819.2,1484.9 820.8,1484.9 822.3,1485.0 823.8,1485.1 825.3,1485.1 826.9,1485.2 828.4,1485.3 830.0,1485.3 831.5,1485.4 833.0,1485.5 834.6,1485.5 836.2,1485.6 837.7,1485.7 839.3,1485.7 840.9,1485.8 842.5,1485.8 844.1,1485.9 845.7,1485.9 847.3,1486.0 848.9,1486.0 850.5,1486.1 852.0,1486.1 853.4,1486.2 855.0,1486.2 856.5,1486.3 858.0,1486.3 859.6,1486.4 861.2,1486.4 862.7,1486.4 864.3,1486.5 866.0,1486.5 867.6,1486.5 869.2,1486.6 870.8,1486.6 872.5,1486.7 874.1,1486.7 875.7,1486.7 877.3,1486.8 879.0,1486.8 880.6,1486.8 882.2,1486.8 883.8,1486.9 885.4,1486.9 887.0,1486.9 888.6,1487.0 890.1,1487.0 891.6,1487.0 893.2,1487.0 894.7,1487.1 896.1,1487.1 897.6,1487.1 899.0,1487.2 900.4,1487.2 901.8,1487.2 903.1,1487.2 904.4,1487.3 905.7,1487.3 906.9,1487.3 908.9,1487.3 910.9,1487.4 912.7,1487.4 914.6,1487.4 916.4,1487.4 918.1,1487.4 919.8,1487.4 921.4,1487.5 923.0,1487.5 924.5,1487.5 926.0,1487.5 927.4,1487.5 928.9,1487.5 930.2,1487.5 931.6,1487.5 932.9,1487.6 934.2,1487.6 935.5,1487.6 936.7,1487.7 937.9,1487.8 939.1,1487.8 940.3,1487.9 942.3,1488.1 944.2,1488.3 945.8,1488.5 947.3,1488.8 948.8,1489.0 950.1,1489.3 951.4,1489.6 952.7,1489.9 954.0,1490.2 955.4,1490.5 956.9,1490.8 958.5,1491.0 960.0,1491.2 961.5,1491.4 963.0,1491.5 964.6,1491.7 966.2,1491.9 967.8,1492.0 969.4,1492.2 971.1,1492.3 972.7,1492.5 974.3,1492.7 975.9,1492.9 977.5,1493.1 979.1,1493.3 980.6,1493.6 982.2,1493.9 983.9,1494.2 985.6,1494.5 987.3,1494.9 989.0,1495.3 990.6,1495.6 992.3,1496.0 993.9,1496.4 995.4,1496.8 996.9,1497.3 998.3,1497.7 999.6,1498.1 1000.8,1498.6 1002.6,1499.4 1004.1,1500.2 1005.5,1501.0 1006.7,1501.9 1007.8,1502.8 1008.8,1503.7 1009.9,1504.7 1010.9,1505.7 1012.1,1506.9 1013.2,1508.3 1014.2,1509.7 1015.2,1511.1 1016.1,1512.4 1017.0,1513.7 1017.9,1514.8 1019.3,1516.4 1020.4,1517.7 1021.6,1518.8 1023.0,1519.8 1024.6,1520.8 1026.4,1521.6 1028.2,1522.2 1030.0,1522.4 1031.4,1522.2 1032.9,1521.7 1034.3,1521.0 1035.7,1520.0 1037.1,1518.8 1038.0,1517.7 1038.9,1516.2 1039.7,1514.7 1040.5,1513.0 1041.3,1511.4 1042.2,1509.9 1043.1,1508.7 1044.4,1507.3 1045.9,1506.2 1047.3,1505.2 1048.8,1504.4 1050.2,1503.7 1051.6,1502.9 1052.7,1502.4 1054.3,1502.0 1057.3,1501.7 1058.4,1501.6 1059.6,1501.6 1061.0,1501.5 1062.4,1501.5 1064.0,1501.4 1065.7,1501.4 1067.4,1501.3 1069.1,1501.3 1070.8,1501.3 1072.6,1501.3 1074.3,1501.3 1075.9,1501.3 1077.5,1501.4 1078.9,1501.5 1080.3,1501.6 1081.5,1501.7 1083.5,1502.0 1085.2,1502.5 1086.5,1503.1 1087.8,1503.7 1088.9,1504.3 1090.2,1505.0 1091.7,1505.7 1093.5,1506.3 1094.8,1506.7 1096.1,1507.1 1097.5,1507.5 1099.0,1507.9 1100.5,1508.3 1102.0,1508.7 1103.6,1509.1 1105.3,1509.5 1106.9,1510.0 1108.6,1510.4 1110.3,1510.8 1112.0,1511.3 1113.7,1511.7 1115.1,1512.1 1116.6,1512.4 1118.1,1512.8 1119.6,1513.2 1121.2,1513.5 1122.8,1513.9 1124.3,1514.3 1125.9,1514.7 1127.5,1515.0 1129.1,1515.4 1130.7,1515.8 1132.2,1516.2 1133.7,1516.6 1135.1,1517.0 1136.5,1517.4 1137.9,1517.8 1139.6,1518.4 1141.3,1518.9 1143.0,1519.5 1144.5,1520.0 1146.1,1520.6 1147.6,1521.2 1149.1,1521.8 1150.5,1522.4 1151.9,1523.0 1153.3,1523.6 1154.7,1524.2 1156.0,1524.8 1157.6,1525.5 1159.1,1526.3 1160.6,1527.0 1162.0,1527.8 1163.4,1528.5 1164.7,1529.3 1166.1,1530.1 1167.4,1530.8 1168.7,1531.6 1170.0,1532.3 1171.4,1533.1 1172.8,1533.8 1174.1,1534.5 1175.4,1535.2 1176.7,1535.9 1178.0,1536.7 1179.3,1537.5 1180.7,1538.3 1182.1,1539.3 1183.3,1540.1 1184.5,1541.0 1185.8,1541.9 1187.1,1542.8 1188.4,1543.8 1189.7,1544.8 1191.0,1545.8 1192.3,1546.9 1193.6,1548.0 1194.9,1549.2 1196.2,1550.4 1197.2,1551.4 1198.2,1552.4 1199.3,1553.5 1200.3,1554.6 1201.4,1555.7 1202.5,1556.8 1203.5,1558.0 1204.5,1559.2 1205.6,1560.4 1206.6,1561.6 1207.5,1562.8 1208.5,1564.0 1209.4,1565.3 1210.3,1566.5 1211.2,1567.8 1212.1,1569.2 1212.9,1570.5 1213.8,1571.9 1214.6,1573.3 1215.3,1574.7 1216.1,1576.1 1216.8,1577.5 1217.6,1578.9 1218.3,1580.3 1219.0,1581.8 1219.7,1583.2 1220.4,1584.7 1221.0,1586.1 1221.7,1587.5 1222.3,1588.9 1222.9,1590.3 1223.5,1591.7 1224.1,1593.2 1224.7,1594.6 1225.3,1596.1 1225.8,1597.5 1226.4,1599.0 1226.9,1600.5 1227.5,1601.9 1228.0,1603.4 1228.5,1604.8 1229.0,1606.2 1229.5,1607.7 1229.9,1609.1 1230.4,1610.6 1230.8,1612.0 1231.2,1613.5 1231.6,1614.9 1232.0,1616.3 1232.4,1617.8 1232.8,1619.2 1233.2,1620.7 1233.7,1622.1 1234.1,1623.6 1234.5,1625.0 1234.9,1626.5 1235.3,1627.9 1235.8,1629.4 1236.2,1630.9 1236.6,1632.5 1237.0,1634.0 1237.4,1635.5 1237.8,1637.0 1238.3,1638.4 1238.7,1639.9 1239.2,1641.3 1239.6,1642.6 1240.1,1643.9 1240.6,1645.2 1241.3,1646.8 1242.1,1648.4 1243.0,1649.8 1243.8,1651.2 1244.7,1652.5 1245.5,1653.8 1246.4,1655.1 1247.2,1656.4 1247.9,1657.8 1248.6,1659.3 1249.2,1660.7 1249.7,1662.0 1250.2,1663.4 1250.7,1664.8 1251.2,1666.1 1251.6,1667.6 1252.0,1669.0 1252.5,1670.5 1252.9,1672.1 1253.3,1673.7 1253.7,1675.4 1254.0,1676.7 1254.3,1678.1 1254.6,1679.5 1254.8,1681.0 1255.1,1682.5 1255.4,1684.0 1255.6,1685.6 1255.9,1687.2 1256.2,1688.7 1256.4,1690.3 1256.7,1691.8 1256.9,1693.3 1257.2,1694.8 1257.4,1696.2 1257.7,1697.6 1258.0,1699.3 1258.4,1700.9 1258.7,1702.5 1259.0,1704.1 1259.4,1705.6 1259.7,1707.2 1260.0,1708.6 1260.4,1710.1 1260.7,1711.6 1261.0,1713.0 1261.4,1714.3 1261.7,1715.7 1262.2,1717.4 1262.6,1719.1 1263.1,1720.7 1263.5,1722.2 1264.0,1723.8 1264.4,1725.2 1264.9,1726.7 1265.3,1728.3 1265.8,1729.8 1266.2,1731.4 1266.7,1733.2 1267.1,1735.1 1267.6,1736.9 1268.0,1738.7 1268.5,1740.3 1268.9,1741.8 1269.4,1743.0 1269.8,1743.9 1271.7,1745.1 1273.8,1742.9 1274.3,1742.0 1274.9,1740.8 1275.4,1739.4 1276.0,1737.9 1276.6,1736.2 1277.2,1734.5 1277.8,1732.9 1278.3,1731.3 1278.9,1729.8 1279.5,1728.3 1280.2,1726.8 1280.8,1725.3 1281.4,1723.8 1282.0,1722.3 1282.6,1720.8 1283.3,1719.3 1283.9,1717.7 1284.5,1716.2 1285.1,1714.8 1285.7,1713.3 1286.3,1711.8 1286.9,1710.3 1287.5,1708.7 1288.0,1707.0 1288.5,1705.4 1289.0,1703.6 1289.3,1702.2 1289.6,1700.8 1289.9,1699.4 1290.2,1697.9 1290.4,1696.4 1290.6,1694.9 1290.9,1693.4 1291.1,1691.8 1291.3,1690.3 1291.5,1688.7 1291.8,1687.1 1292.0,1685.5 1292.2,1684.0 1292.5,1682.5 1292.7,1681.1 1292.9,1679.6 1293.2,1678.1 1293.4,1676.5 1293.6,1675.0 1293.8,1673.5 1294.1,1671.9 1294.3,1670.3 1294.5,1668.6 1294.8,1667.0 1295.0,1665.3 1295.2,1663.9 1295.4,1662.4 1295.5,1661.0 1295.7,1659.4 1295.9,1657.9 1296.1,1656.3 1296.3,1654.8 1296.4,1653.2 1296.6,1651.6 1296.8,1650.1 1297.0,1648.5 1297.2,1647.0 1297.4,1645.4 1297.6,1644.0 1297.8,1642.5 1298.0,1641.1 1298.3,1639.4 1298.6,1637.8 1298.9,1636.2 1299.2,1634.6 1299.5,1633.1 1299.8,1631.6 1300.1,1630.0 1300.4,1628.6 1300.7,1627.1 1301.1,1625.6 1301.4,1624.1 1301.8,1622.5 1302.1,1621.0 1302.5,1619.4 1302.8,1617.9 1303.2,1616.3 1303.6,1614.8 1304.0,1613.2 1304.4,1611.7 1304.8,1610.1 1305.2,1608.6 1305.6,1607.0 1306.0,1605.5 1306.4,1603.9 1306.7,1602.4 1307.1,1600.8 1307.4,1599.2 1307.8,1597.7 1308.1,1596.1 1308.4,1594.5 1308.7,1592.8 1309.0,1591.2 1309.3,1589.6 1309.6,1588.1 1309.9,1586.5 1310.2,1585.0 1310.5,1583.5 1310.8,1582.0 1311.1,1580.6 1311.5,1579.0 1311.8,1577.4 1312.2,1575.8 1312.5,1574.3 1312.8,1572.8 1313.2,1571.3 1313.6,1569.9 1313.9,1568.5 1314.3,1567.1 1314.8,1565.8 1315.2,1564.5 1315.8,1563.0 1316.4,1561.5 1317.1,1560.2 1317.8,1558.8 1318.5,1557.6 1319.2,1556.3 1319.9,1555.0 1320.6,1553.7 1321.2,1552.4 1321.9,1550.9 1322.6,1549.3 1323.2,1547.7 1323.9,1546.2 1324.5,1544.6 1325.1,1543.1 1325.7,1541.7 1326.3,1540.3 1327.0,1538.5 1327.7,1536.8 1328.3,1535.1 1328.9,1533.6 1329.6,1532.3 1330.3,1531.3 1331.9,1530.0 1333.7,1529.7 1335.3,1530.2 1336.1,1531.3 1336.9,1533.0 1337.7,1534.9 1338.5,1536.5 1339.4,1537.3 1340.8,1537.0 1342.3,1535.8 1343.8,1534.3 1345.4,1533.3 1346.9,1532.5 1348.5,1531.8 1350.1,1531.6 1351.5,1532.3 1352.2,1533.2 1352.8,1534.5 1353.4,1536.0 1354.0,1537.7 1354.6,1539.4 1355.2,1541.2 1355.8,1542.9 1356.5,1544.4 1357.3,1545.9 1358.1,1547.3 1358.8,1548.7 1359.7,1550.1 1360.5,1551.5 1361.5,1552.9 1362.5,1554.4 1363.3,1555.6 1364.1,1556.9 1365.0,1558.3 1365.9,1559.7 1366.9,1561.1 1367.8,1562.4 1368.8,1563.7 1369.7,1564.8 1370.7,1565.8 1371.6,1566.5 1373.2,1567.1 1374.8,1567.1 1376.5,1566.7 1378.0,1566.3 1379.5,1566.1 1380.7,1566.5 1381.7,1567.5 1382.4,1568.9 1383.0,1570.5 1383.5,1572.2 1384.1,1574.0 1384.7,1575.6 1385.4,1577.2 1386.0,1579.0 1386.7,1580.8 1387.4,1582.5 1388.1,1583.8 1388.8,1584.7 1390.3,1584.9 1391.9,1583.8 1393.8,1582.7 1395.2,1582.4 1396.9,1582.1 1398.6,1581.8 1400.3,1581.3 1401.9,1580.6 1403.1,1579.6 1404.1,1578.4 1405.2,1577.0 1406.2,1575.7 1407.5,1574.5 1408.9,1573.6 1410.2,1573.2 1411.6,1573.0 1413.2,1573.0 1414.8,1573.0 1416.5,1573.0 1418.1,1573.0 1419.6,1572.9 1421.0,1572.6 1422.7,1571.9 1424.4,1570.9 1425.9,1569.7 1427.4,1568.7 1428.8,1567.9 1430.1,1567.5 1431.8,1567.6 1433.3,1568.2 1434.7,1569.4 1436.1,1571.6 1436.6,1572.7 1437.1,1573.9 1437.6,1575.2 1438.1,1576.7 1438.5,1578.3 1439.0,1580.0 1439.5,1581.7 1439.9,1583.5 1440.4,1585.2 1440.8,1587.0 1441.2,1588.7 1441.5,1590.1 1441.9,1591.6 1442.2,1593.0 1442.5,1594.4 1442.8,1595.9 1443.1,1597.4 1443.4,1598.9 1443.7,1600.4 1444.0,1602.0 1444.3,1603.6 1444.6,1605.3 1444.9,1607.1 1445.2,1608.9 1445.4,1610.3 1445.6,1611.8 1445.9,1613.3 1446.1,1614.9 1446.3,1616.5 1446.5,1618.2 1446.8,1619.9 1447.0,1621.7 1447.2,1623.4 1447.4,1625.1 1447.6,1626.8 1447.9,1628.4 1448.1,1630.1 1448.3,1631.6 1448.5,1633.1 1448.8,1634.5 1449.0,1635.9 1449.2,1637.1 1449.7,1639.3 1450.1,1641.3 1450.6,1643.0 1451.1,1644.6 1451.5,1646.0 1452.0,1647.3 1452.5,1648.6 1452.9,1649.9 1453.3,1651.2 1453.8,1652.9 1454.2,1654.4 1454.7,1655.8 1455.1,1657.2 1455.5,1658.6 1455.9,1659.9 1456.3,1661.3 1456.8,1663.1 1457.3,1664.9 1457.8,1666.8 1458.3,1668.5 1458.7,1669.9 1459.0,1671.0" fill="none" stroke="#000" stroke-width="6" stroke-linejoin="round" stroke-linecap="butt"/></g>
<rect x="1276.2" y="48.7" width="9.6" height="9.6" fill="#f00"/>
<rect x="1276.2" y="94.3" width="9.6" height="9.6" fill="#f00"/>
<rect x="1276.2" y="139.8" width="9.6" height="9.6" fill="#f00"/>
<rect x="1276.2" y="185.4" width="9.6" height="9.6" fill="#f00"/>
<rect x="1276.2" y="231.0" width="9.6" height="9.6" fill="#f00"/>
<rect x="1276.2" y="276.6" width="9.6" height="9.6" fill="#f00"/>
<rect x="1276.2" y="322.1" width="9.6" height="9.6" fill="#f00"/>
<rect x="1276.2" y="367.7" width="9.6" height="9.6" fill="#f00"/>
<rect x="1276.2" y="413.3" width="9.6" height="9.6" fill="#f00"/>
<rect x="1276.2" y="458.8" width="9.6" height="9.6" fill="#f00"/>
<rect x="1274.2" y="504.4" width="9.6" height="9.6" fill="#f00"/>
<rect x="1274.2" y="550.0" width="9.6" height="9.6" fill="#f00"/>
<rect x="1274.2" y="595.5" width="9.6" height="9.6" fill="#f00"/>
<rect x="1274.2" y="641.1" width="9.6" height="9.6" fill="#f00"/>
<rect x="1274.2" y="686.7" width="9.6" height="9.6" fill="#f00"/>
<rect x="1274.2" y="732.2" width="9.6" height="9.6" fill="#f00"/>
<rect x="1274.2" y="777.8" width="9.6" height="9.6" fill="#f00"/>
<rect x="1274.2" y="823.4" width="9.6" height="9.6" fill="#f00"/>
<rect x="1274.2" y="869.0" width="9.6" height="9.6" fill="#f00"/>
<rect x="1274.2" y="914.5" width="9.6" height="9.6" fill="#f00"/>
<rect x="1274.2" y="960.1" width="9.6" height="9.6" fill="#f00"/>
<rect x="1274.2" y="1005.7" width="9.6" height="9.6" fill="#f00"/>
<rect x="1274.2" y="1051.2" width="9.6" height="9.6" fill="#f00"/>
<rect x="1274.2" y="1096.8" width="9.6" height="9.6" fill="#f00"/>
<rect x="1274.2" y="1142.4" width="9.6" height="9.6" fill="#f00"/>
<rect x="1274.2" y="1188.0" width="9.6" height="9.6" fill="#f00"/>
<rect x="1274.2" y="1233.5" width="9.6" height="9.6" fill="#f00"/>
<rect x="1274.2" y="1279.1" width="9.6" height="9.6" fill="#f00"/>
<rect x="1274.2" y="1324.7" width="9.6" height="9.6" fill="#f00"/>
<rect x="1272.2" y="1370.2" width="9.6" height="9.6" fill="#f00"/>
<rect x="1272.2" y="1415.8" width="9.6" height="9.6" fill="#f00"/>
<rect x="1272.2" y="1461.4" width="9.6" height="9.6" fill="#f00"/>
<rect x="1272.2" y="1506.9" width="9.6" height="9.6" fill="#f00"/>
<rect x="1272.2" y="1552.5" width="9.6" height="9.6" fill="#f00"/>
<rect x="1272.2" y="1598.1" width="9.6" height="9.6" fill="#f00"/>
<rect x="1272.2" y="1643.7" width="9.6" height="9.6" fill="#f00"/>
<rect x="1272.2" y="1689.2" width="9.6" height="9.6" fill="#f00"/>
<rect x="1272.2" y="1734.8" width="9.6" height="9.6" fill="#f00"/>
<rect x="1272.2" y="1780.4" width="9.6" height="9.6" fill="#f00"/>
<text x="80.8" y="1873.5" font-size="59.5" text-anchor="start" textLength="131.5" lengthAdjust="spacingAndGlyphs">4,000</text>
<text x="455.8" y="1873.5" font-size="59.5" text-anchor="start" textLength="131.5" lengthAdjust="spacingAndGlyphs">3,000</text>
<text x="830.8" y="1873.5" font-size="59.5" text-anchor="start" textLength="131.5" lengthAdjust="spacingAndGlyphs">2,000</text>
<text x="1205.8" y="1873.5" font-size="59.5" text-anchor="start" textLength="131.5" lengthAdjust="spacingAndGlyphs">1,000</text>
<text x="571.5" y="103.4" font-size="59.5" text-anchor="start" textLength="241.5" lengthAdjust="spacingAndGlyphs">VeMn0.02</text>
<text x="604.8" y="383.7" font-size="59.5" text-anchor="start" textLength="236.5" lengthAdjust="spacingAndGlyphs">VeMn0.01</text>
<text x="579.8" y="784.4" font-size="59.5" text-anchor="start" textLength="269.5" lengthAdjust="spacingAndGlyphs">VeMn0.005</text>
<text x="584.0" y="1095.5" font-size="59.5" text-anchor="start" textLength="270" lengthAdjust="spacingAndGlyphs">VeMn0.001</text>
<text x="653.8" y="1444.4" font-size="59.5" text-anchor="start" textLength="102" lengthAdjust="spacingAndGlyphs">Vrm</text>
<text x="452.0" y="557.1" font-size="59.5" text-anchor="start" textLength="198" lengthAdjust="spacingAndGlyphs">3,420cm</text><rect x="655.9" y="514.5" width="24.9" height="3.0"/><text x="686.5" y="527.8" font-size="33" text-anchor="start" >1</text>
<text x="761.0" y="557.1" font-size="59.5" text-anchor="start" textLength="196.5" lengthAdjust="spacingAndGlyphs">1,643cm</text><rect x="963.0" y="514.5" width="24.9" height="3.0"/><text x="994.0" y="527.8" font-size="33" text-anchor="start" >1</text>
<text x="1040.0" y="670.8" font-size="59.5" text-anchor="start" textLength="154" lengthAdjust="spacingAndGlyphs">998cm</text><rect x="1200.8" y="628.3" width="25.6" height="3.0"/><text x="1230.5" y="641.5" font-size="33" text-anchor="start" >1</text>
<line x1="482.6" y1="576.5" x2="402.6" y2="655.3" stroke="#000" stroke-width="6"/><polygon points="384.1,673.5 395.3,644.9 412.8,662.8" fill="#000"/>
<line x1="926.0" y1="583.2" x2="975.6" y2="637.8" stroke="#000" stroke-width="6"/><polygon points="993.1,657.0 965.0,644.7 983.5,627.9" fill="#000"/>
<line x1="1196.0" y1="690.0" x2="1246.3" y2="775.2" stroke="#000" stroke-width="6"/><polygon points="1259.5,797.6 1234.5,779.8 1256.0,767.1" fill="#000"/>
<text x="523.0" y="2011.5" font-size="74" text-anchor="start" textLength="495.5" lengthAdjust="spacingAndGlyphs">Wavenumber/cm</text>
<rect x="1026" y="1957.4" width="31" height="3.3"/>
<text x="1066.5" y="1976.1" font-size="45" text-anchor="start" >1</text>
<text transform="translate(77.8,1293) rotate(-90)" font-size="74" textLength="553" lengthAdjust="spacingAndGlyphs">Transmittance/a.u.</text>
</g></svg>
</body></html>
